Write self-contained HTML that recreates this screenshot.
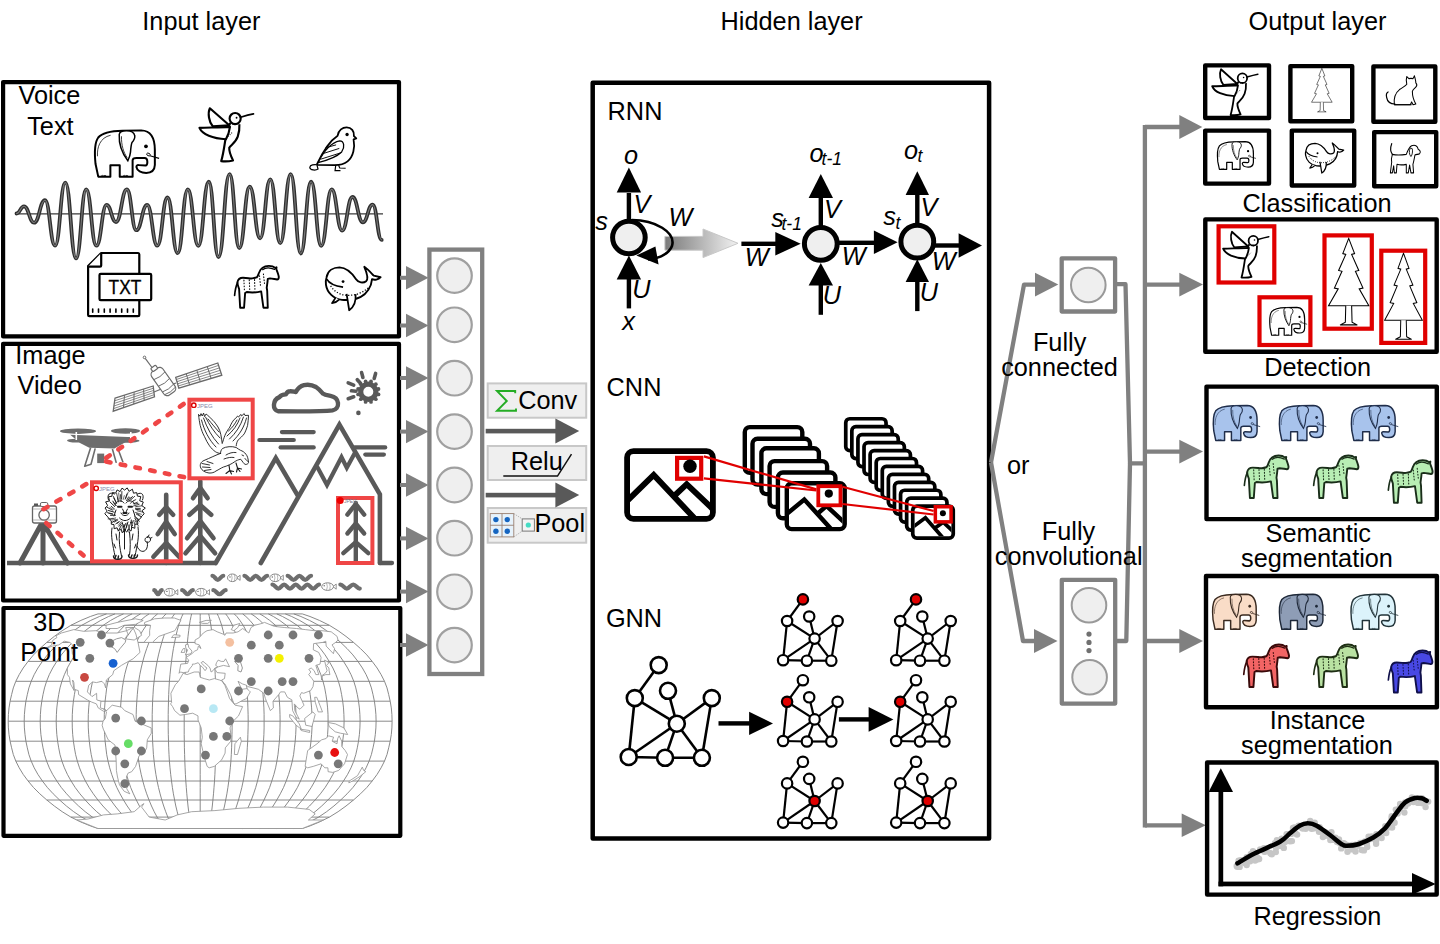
<!DOCTYPE html>
<html><head><meta charset="utf-8">
<style>
html,body{margin:0;padding:0;background:#fff;}
body{width:1440px;height:944px;overflow:hidden;}
svg{display:block;}
text{font-family:"Liberation Sans",sans-serif;font-size:25.3px;fill:#000;}
.it{font-style:italic;}
</style></head>
<body>
<svg width="1440" height="944" viewBox="0 0 1440 944">
<defs>
<linearGradient id="gA" x1="0" x2="1" y1="0" y2="0"><stop offset="0" stop-color="#7a7a7a"/><stop offset="1" stop-color="#f2f2f2"/></linearGradient>
<symbol preserveAspectRatio="none" id="eleph" viewBox="70 228 525 398" overflow="visible">
<path d="M106,613 L203,613 L203,521 L278,521 L278,613 L381,613 L381,482 C381,470 395,463 413,463 L476,463 C493,463 499,475 499,495 C499,512 494,523 484,524 L430,521 C416,520 410,528 412,538 C417,566 450,583 490,583 C531,583 557,565 559,520 L559,400 C559,300 520,245 450,243 L300,246 C200,248 140,260 106,300 C80,335 75,420 84,510 Z" fill="var(--f,#fff)" stroke="var(--s,#000)" stroke-width="16" stroke-linejoin="round"/>
<path d="M332,246 C300,246 276,252 274,276 C270,350 300,430 343,486 C355,460 363,432 364,417 C367,380 371,352 376,340 C392,322 401,302 398,286 C394,260 370,246 332,246 Z" fill="var(--f,#fff)" stroke="var(--s,#000)" stroke-width="12"/>
<path d="M292,290 C290,360 308,420 338,462" fill="none" stroke="var(--s,#000)" stroke-width="6"/>
<path d="M100,450 C95,380 120,300 205,282" fill="none" stroke="var(--s,#000)" stroke-width="6"/>
<circle cx="488" cy="370" r="15" fill="var(--s,#000)"/>
<ellipse cx="508" cy="436" rx="15" ry="10" transform="rotate(25 508 436)" fill="none" stroke="var(--s,#000)" stroke-width="7"/>
<path d="M520,446 L593,467" fill="none" stroke="var(--s,#000)" stroke-width="9"/>
<path d="M130,613 a10,10 0 0 1 20,0 a10,10 0 0 1 20,0 M305,613 a10,10 0 0 1 20,0 a10,10 0 0 1 20,0" fill="none" stroke="var(--s,#000)" stroke-width="6"/>
</symbol>
<symbol preserveAspectRatio="none" id="hbird" viewBox="28 60 475 472" overflow="visible">
<path d="M300,194 C280,215 268,270 258,330 C250,380 240,460 222,518 C255,522 290,520 322,512 C302,470 288,430 290,405 C300,385 345,360 362,310 C372,280 378,240 376,205" fill="#fff" stroke="var(--s,#000)" stroke-width="18" stroke-linejoin="round"/>
<path d="M290,214 L126,70 C106,112 118,185 150,222 Z" fill="#fff" stroke="var(--s,#000)" stroke-width="18" stroke-linejoin="round"/>
<path d="M296,228 C200,234 110,232 38,236 C62,292 150,328 262,332 C280,300 292,262 296,228 Z" fill="#fff" stroke="var(--s,#000)" stroke-width="18" stroke-linejoin="round"/>
<circle cx="340" cy="157" r="47" fill="#fff" stroke="var(--s,#000)" stroke-width="18"/>
<path d="M386,146 C425,134 462,124 495,118" fill="none" stroke="var(--s,#000)" stroke-width="15" stroke-linecap="round"/>
<circle cx="352" cy="150" r="8" fill="var(--s,#000)"/>
<path d="M268,322 L318,272 M300,200 L340,210" fill="none" stroke="var(--s,#000)" stroke-width="9" stroke-dasharray="7 12"/>
</symbol>
<symbol preserveAspectRatio="none" id="sparrow" viewBox="962 222 410 385" overflow="visible">
<path d="M1030,550 C1080,440 1150,340 1208,302 C1215,255 1250,232 1284,232 C1325,232 1350,265 1346,305 L1366,325 L1343,333 C1356,400 1342,480 1292,520 C1262,545 1222,552 1182,552 Z" fill="#fff" stroke="var(--s,#000)" stroke-width="15" stroke-linejoin="round"/>
<path d="M1032,548 C1010,545 975,548 972,570 C975,596 1022,598 1042,585 Z" fill="#fff" stroke="var(--s,#000)" stroke-width="10"/>
<path d="M1042,530 C1092,430 1152,360 1226,346 C1262,346 1272,400 1242,440 C1202,480 1122,510 1042,530 Z" fill="#fff" stroke="var(--s,#000)" stroke-width="11"/>
<path d="M1105,405 L1195,380 M1080,455 L1222,410 M1062,502 L1232,448" fill="none" stroke="var(--s,#000)" stroke-width="8"/>
<circle cx="1288" cy="292" r="14" fill="var(--s,#000)"/>
<path d="M1192,552 L1186,598 L1232,598 M1216,552 L1226,576 L1276,578" fill="none" stroke="var(--s,#000)" stroke-width="10"/>
</symbol>
<symbol preserveAspectRatio="none" id="horse" viewBox="70 82 392 380" overflow="visible">
<path d="M105,230 C110,205 130,193 152,193 C190,193 210,200 230,198 C250,196 260,192 269,189 C278,180 282,165 287,152 C295,130 305,115 315,110 C335,95 355,92 371,92 C395,92 415,100 427,110 L436,104 L434,120 C442,140 452,165 455,184 C456,198 450,206 441,207 C420,204 400,200 381,198 L362,202 C360,230 356,255 353,277 L357,304 L362,446 L325,446 L306,308 C280,315 255,317 231,317 C210,317 195,315 184,313 L170,322 L161,446 L128,446 L119,286 C110,265 104,248 105,230 Z" fill="var(--f,#fff)" stroke="var(--s,#000)" stroke-width="16" stroke-linejoin="round"/>
<path d="M106,234 C93,262 85,300 81,341" fill="none" stroke="var(--s,#000)" stroke-width="14" stroke-linecap="round"/>
<path d="M318,124 C340,107 380,104 420,122" fill="none" stroke="var(--s,#000)" stroke-width="11" stroke-linecap="round"/>
<path d="M160,212 L164,300 M205,210 L210,306 M250,208 L254,306 M292,175 L300,260 M325,160 L335,250" fill="none" stroke="var(--s,#000)" stroke-width="9" stroke-dasharray="7 18" stroke-linecap="round"/>
</symbol>
<symbol preserveAspectRatio="none" id="whale" viewBox="842 82 486 400" overflow="visible">
<path d="M860,190 C870,130 920,105 970,105 C1040,108 1080,160 1110,205 C1130,235 1170,242 1195,222 C1215,205 1210,170 1180,100 C1210,120 1240,155 1260,175 L1318,188 C1300,210 1265,215 1245,205 C1240,270 1200,330 1150,355 C1100,380 1050,385 990,380 C920,370 865,320 855,250 C852,225 855,205 860,190 Z" fill="#fff" stroke="var(--s,#000)" stroke-width="16" stroke-linejoin="round"/>
<path d="M862,205 C882,242 922,262 1000,272" fill="none" stroke="var(--s,#000)" stroke-width="14"/>
<circle cx="1000" cy="225" r="12" fill="var(--s,#000)"/>
<path d="M1030,330 L1052,468 C1092,440 1112,400 1106,332" fill="#fff" stroke="var(--s,#000)" stroke-width="15" stroke-linejoin="round"/>
<path d="M938,360 L906,408 C932,404 952,394 966,378" fill="#fff" stroke="var(--s,#000)" stroke-width="14" stroke-linejoin="round"/>
<path d="M895,262 C930,318 990,342 1040,342 C1110,342 1170,318 1215,276" fill="none" stroke="var(--s,#000)" stroke-width="11" stroke-dasharray="10 15"/>
</symbol>
<symbol preserveAspectRatio="none" id="fir" viewBox="-4 -4 108 208" overflow="visible">
<path d="M50,0.0 L64,35.1 L57,36.9 L74,73.8 L66,75.7 L84,114.4 L75,116.2 L98,155.0 L2,155.0 L25,116.2 L16,114.4 L34,75.7 L26,73.8 L43,36.9 L36,35.1 Z" fill="#fff" stroke="var(--s,#000)" stroke-width="2.5"/>
<path d="M43,155 L42,193 L30,199 L70,199 L58,193 L57,155" fill="#fff" stroke="var(--s,#000)" stroke-width="2.5" stroke-linejoin="round"/>
</symbol>
<symbol preserveAspectRatio="none" id="cat" viewBox="0 0 100 100" overflow="visible">
<path d="M30,88 C28,70 32,55 45,45 C55,38 62,36 66,30 C64,22 64,14 66,8 L72,14 C76,13 80,13 84,14 L88,6 C90,14 92,20 92,26 C96,30 96,34 92,38 C88,42 84,44 82,50 C82,62 86,76 92,86 L84,88 L80,80 L76,88 Z" fill="#fff" stroke="var(--s,#000)" stroke-width="3" stroke-linejoin="round"/>
<path d="M32,86 C20,86 10,80 8,68 C6,60 8,54 12,52" fill="none" stroke="var(--s,#000)" stroke-width="3.5" stroke-linecap="round"/>
<path d="M30,88 L80,88" stroke="var(--s,#000)" stroke-width="3"/>
</symbol>
<symbol preserveAspectRatio="none" id="dog" viewBox="0 0 100 100" overflow="visible">
<path d="M14,40 C24,42 40,42 56,40 C60,30 64,20 72,16 C82,12 90,16 92,26 C98,28 100,34 96,38 C92,40 86,40 82,42 C80,52 78,62 76,68 L78,92 L70,92 L66,70 L62,92 L56,92 L56,68 C46,70 36,70 28,68 L26,92 L20,92 L18,72 L14,92 L8,92 L12,62 C10,54 12,46 14,40 Z" fill="#fff" stroke="var(--s,#000)" stroke-width="3" stroke-linejoin="round"/>
<path d="M14,40 C8,32 8,20 12,10" fill="none" stroke="var(--s,#000)" stroke-width="3.5" stroke-linecap="round"/>
<path d="M68,22 C64,30 64,40 70,46 C74,42 76,32 74,24 Z" fill="#fff" stroke="var(--s,#000)" stroke-width="2.5"/>
</symbol>
</defs>
<rect x="0" y="0" width="1440" height="944" fill="#fff"/>

<!-- titles -->
<text x="201.4" y="29.9" text-anchor="middle">Input layer</text>
<text x="791.6" y="29.9" text-anchor="middle">Hidden layer</text>
<text x="1317.5" y="29.9" text-anchor="middle">Output layer</text>

<line x1="16.5" y1="213.8" x2="383" y2="213.8" stroke="#3a3a3a" stroke-width="1.3"/>
<path d="M16.5,213.5 C20.1,213.5 20.4,206.3 24.0,206.3 C28.8,206.3 29.3,222.7 34.1,222.7 C39.3,222.7 39.8,200.2 45.0,200.2 C49.8,200.2 50.3,245.7 55.1,245.7 C60.0,245.7 60.4,182.6 65.3,182.6 C70.5,182.6 70.9,258.4 76.1,258.4 C80.9,258.4 81.4,189.4 86.2,189.4 C91.1,189.4 91.5,245.7 96.4,245.7 C101.3,245.7 101.7,204.9 106.6,204.9 C111.1,204.9 111.5,222.0 116.0,222.0 C121.2,222.0 121.7,189.4 126.9,189.4 C131.4,189.4 131.8,230.2 136.3,230.2 C141.5,230.2 142.0,204.9 147.2,204.9 C152.0,204.9 152.5,245.7 157.3,245.7 C162.2,245.7 162.6,197.5 167.5,197.5 C172.3,197.5 172.8,253.2 177.6,253.2 C182.5,253.2 182.9,189.4 187.8,189.4 C192.8,189.4 193.3,245.9 198.3,245.9 C203.3,245.9 203.7,181.7 208.8,181.7 C213.4,181.7 213.8,257.0 218.5,257.0 C223.8,257.0 224.3,174.1 229.6,174.1 C234.3,174.1 234.6,248.0 239.3,248.0 C244.3,248.0 244.7,186.6 249.7,186.6 C254.7,186.6 255.1,238.3 260.1,238.3 C265.0,238.3 265.4,179.4 270.3,179.4 C275.1,179.4 275.5,243.1 280.3,243.1 C285.3,243.1 285.7,174.1 290.7,174.1 C295.5,174.1 296.0,253.5 300.8,253.5 C305.7,253.5 306.2,181.7 311.1,181.7 C316.0,181.7 316.4,245.9 321.2,245.9 C326.3,245.9 326.7,189.4 331.7,189.4 C336.7,189.4 337.1,230.6 342.1,230.6 C347.1,230.6 347.5,197.0 352.5,197.0 C357.5,197.0 357.9,222.3 362.9,222.3 C367.6,222.3 367.9,204.6 372.6,204.6 C377.0,204.6 377.3,239.9 381.7,239.9" fill="none" stroke="#303030" stroke-width="3.8" stroke-linecap="round"/>
<path d="M16.5,213.5 C20.1,213.5 20.4,206.3 24.0,206.3 C28.8,206.3 29.3,222.7 34.1,222.7 C39.3,222.7 39.8,200.2 45.0,200.2 C49.8,200.2 50.3,245.7 55.1,245.7 C60.0,245.7 60.4,182.6 65.3,182.6 C70.5,182.6 70.9,258.4 76.1,258.4 C80.9,258.4 81.4,189.4 86.2,189.4 C91.1,189.4 91.5,245.7 96.4,245.7 C101.3,245.7 101.7,204.9 106.6,204.9 C111.1,204.9 111.5,222.0 116.0,222.0 C121.2,222.0 121.7,189.4 126.9,189.4 C131.4,189.4 131.8,230.2 136.3,230.2 C141.5,230.2 142.0,204.9 147.2,204.9 C152.0,204.9 152.5,245.7 157.3,245.7 C162.2,245.7 162.6,197.5 167.5,197.5 C172.3,197.5 172.8,253.2 177.6,253.2 C182.5,253.2 182.9,189.4 187.8,189.4 C192.8,189.4 193.3,245.9 198.3,245.9 C203.3,245.9 203.7,181.7 208.8,181.7 C213.4,181.7 213.8,257.0 218.5,257.0 C223.8,257.0 224.3,174.1 229.6,174.1 C234.3,174.1 234.6,248.0 239.3,248.0 C244.3,248.0 244.7,186.6 249.7,186.6 C254.7,186.6 255.1,238.3 260.1,238.3 C265.0,238.3 265.4,179.4 270.3,179.4 C275.1,179.4 275.5,243.1 280.3,243.1 C285.3,243.1 285.7,174.1 290.7,174.1 C295.5,174.1 296.0,253.5 300.8,253.5 C305.7,253.5 306.2,181.7 311.1,181.7 C316.0,181.7 316.4,245.9 321.2,245.9 C326.3,245.9 326.7,189.4 331.7,189.4 C336.7,189.4 337.1,230.6 342.1,230.6 C347.1,230.6 347.5,197.0 352.5,197.0 C357.5,197.0 357.9,222.3 362.9,222.3 C367.6,222.3 367.9,204.6 372.6,204.6 C377.0,204.6 377.3,239.9 381.7,239.9" fill="none" stroke="#7a7a7a" stroke-width="1.1" stroke-linecap="round"/>
<use href="#eleph" x="93.75" y="128.5" width="65.6" height="49.75"/>
<use href="#hbird" x="198.3" y="107.1" width="56.1" height="55.7"/>
<use href="#sparrow" x="308.6" y="126.2" width="48.4" height="45.5"/>
<use href="#horse" x="233.3" y="264.7" width="46.3" height="44.9"/>
<use href="#whale" x="324.4" y="264.7" width="57.4" height="47.2"/>
<g fill="#fff" stroke="#000" stroke-width="2.2" stroke-linejoin="round">
<path d="M101.2,253 L138.2,253 Q139.3,253 139.3,254.5 L139.3,315 Q139.3,316.2 138,316.2 L89.4,316.2 Q88.1,316.2 88.1,315 L88.1,266 Z"/>
<path d="M101.2,253 L101.2,265.5 Q101.2,266.6 100,266.6 L88.1,266.6"/>
<rect x="99.5" y="273.8" width="51.7" height="26.3" rx="1.2"/>
</g>
<text x="108.6" y="293.7" textLength="32.6" lengthAdjust="spacingAndGlyphs" style="font-size:19.4px;stroke:#000;stroke-width:0.35">TXT</text>
<g stroke="#000" stroke-width="1.6" stroke-linecap="round">
<line x1="92.7" y1="309" x2="92.7" y2="312.3"/>
<line x1="98.5" y1="309" x2="98.5" y2="312.3"/>
<line x1="104.3" y1="309" x2="104.3" y2="312.3"/>
<line x1="110.1" y1="309" x2="110.1" y2="312.3"/>
<line x1="115.9" y1="309" x2="115.9" y2="312.3"/>
<line x1="121.7" y1="309" x2="121.7" y2="312.3"/>
<line x1="127.5" y1="309" x2="127.5" y2="312.3"/>
<line x1="133.3" y1="309" x2="133.3" y2="312.3"/>
</g>
<g stroke="#595959" fill="none" stroke-linecap="round" stroke-linejoin="miter">
<line x1="7" y1="563" x2="216" y2="563" stroke-width="4.3" stroke-linecap="butt"/>
<line x1="379.9" y1="563" x2="392" y2="563" stroke-width="4.3"/>
<path d="M20,563 L42.5,522 L67.4,563 M43,522 L43,563" stroke-width="5"/>
<line x1="166.2" y1="494.8" x2="166.2" y2="563" stroke-width="4.6"/>
<path d="M159.3,514.8 L166.2,507.2 L173.1,514.8" stroke-width="4.6"/>
<path d="M157.7,534.0 L166.2,521.7 L174.7,534.0" stroke-width="4.6"/>
<path d="M153.4,556.8 L166.2,543 L179.0,556.8" stroke-width="4.6"/>
<line x1="200.3" y1="481" x2="200.3" y2="563" stroke-width="4.6"/>
<path d="M193.0,498.2 L200.3,487.9 L207.6,498.2" stroke-width="4.6"/>
<path d="M189.4,514.8 L200.3,505.1 L211.2,514.8" stroke-width="4.6"/>
<path d="M187.1,538.2 L200.3,521 L213.5,538.2" stroke-width="4.6"/>
<path d="M185.5,553.3 L200.3,536.1 L215.1,553.3" stroke-width="4.6"/>
<line x1="355.8" y1="503" x2="355.8" y2="560.3" stroke-width="4.4"/>
<path d="M347.4,514.6 L355.8,504 L364.2,514.6" stroke-width="4.4"/>
<path d="M347.4,533.5 L355.8,523.5 L364.2,533.5" stroke-width="4.4"/>
<path d="M343.3,553.1 L355.8,542.1 L368.3,553.1" stroke-width="4.4"/>
<path d="M215.7,563 L275.8,458 L297.8,495.6" stroke-width="4.6"/>
<path d="M260.8,563 L339.4,424.7 L379.9,494.3 L379.9,563" stroke-width="4.6"/>
<path d="M317.7,467.8 L327,485 L341.5,457.2 L346.8,467.8 L354.7,453.3" stroke-width="4.2"/>
<line x1="259.4" y1="440" x2="293.8" y2="440" stroke-width="4.2"/>
<line x1="281.9" y1="432.1" x2="313.7" y2="432.1" stroke-width="4.2"/>
<line x1="280.6" y1="447.4" x2="313.7" y2="447.4" stroke-width="4.2"/>
<line x1="354.7" y1="447.4" x2="385.2" y2="447.4" stroke-width="4.2"/>
<line x1="365.3" y1="454.6" x2="383.9" y2="454.6" stroke-width="4.2"/>
<path d="M278.5,411.3 C272,410 272.5,400 279.4,397.1 C281,395 284,394.5 285.8,394.4 C287,392 288,391.2 290,391.2 C292.5,391 294,391.8 295.7,392.1 C298,388 301,386 304,385.2 C308,384.3 312,384.8 316,387 C319,389 321,391.5 322.8,393.5 C325,395 328,395.4 330.5,395.9 C334.5,396.7 337.5,399 338,403 C338.5,407 336,409.8 332.5,410.4 C325,411.3 300,411.5 278.5,411.3 Z" stroke-width="4.4" stroke-linejoin="round"/>
<circle cx="368.3" cy="391.7" r="7.6" stroke-width="5.2"/>
<circle cx="378.5" cy="394.4" r="1.9" fill="#595959" stroke="none"/>
<circle cx="375.8" cy="399.2" r="1.9" fill="#595959" stroke="none"/>
<circle cx="371.0" cy="401.9" r="1.9" fill="#595959" stroke="none"/>
<circle cx="365.6" cy="401.9" r="1.9" fill="#595959" stroke="none"/>
<circle cx="360.8" cy="399.2" r="1.9" fill="#595959" stroke="none"/>
<circle cx="358.1" cy="394.4" r="1.9" fill="#595959" stroke="none"/>
<circle cx="358.1" cy="389.0" r="1.9" fill="#595959" stroke="none"/>
<circle cx="360.8" cy="384.2" r="1.9" fill="#595959" stroke="none"/>
<circle cx="365.6" cy="381.5" r="1.9" fill="#595959" stroke="none"/>
<circle cx="371.0" cy="381.5" r="1.9" fill="#595959" stroke="none"/>
<circle cx="375.8" cy="384.2" r="1.9" fill="#595959" stroke="none"/>
<circle cx="378.5" cy="389.0" r="1.9" fill="#595959" stroke="none"/>
<line x1="361.6" y1="372.6" x2="362.9" y2="377.5" stroke-width="3.6"/>
<line x1="375.6" y1="373.4" x2="374.2" y2="378.4" stroke-width="3.6"/>
<line x1="357.3" y1="379.7" x2="360.5" y2="383.3" stroke-width="3.6"/>
<line x1="348.2" y1="382.8" x2="353.7" y2="385.1" stroke-width="3.6"/>
<line x1="351.4" y1="390.8" x2="356.0" y2="391.2" stroke-width="3.6"/>
<line x1="348.2" y1="398.7" x2="353.7" y2="396.8" stroke-width="3.6"/>
</g>
<circle cx="358.4" cy="412.9" r="2.3" fill="#595959"/>
<path d="M212.5,575.8 C214.6,575.8 215.7,579.8 217.8,579.8 C220.0,579.8 221.1,575.8 223.2,575.8" fill="none" stroke="#6e6e6e" stroke-width="4.3" stroke-linecap="round"/>
<ellipse cx="232.4" cy="577.8" rx="4.9" ry="3.8" fill="#fff" stroke="#7a7a7a" stroke-width="0.9"/>
<path d="M236.9,577.8 l3.2,-2.6 l0,5.2 z" fill="#fff" stroke="#7a7a7a" stroke-width="0.8"/>
<path d="M231.4,574.3 q1.5,3.5 0,7 M234.4,574.6 q1.2,3.2 0,6.4" fill="none" stroke="#8a8a8a" stroke-width="0.6"/>
<circle cx="230.0" cy="577.0" r="0.7" fill="#666"/>
<path d="M244.5,575.8 C246.8,575.8 247.9,579.8 250.2,579.8 C252.4,579.8 253.5,575.8 255.8,575.8 C258.1,575.8 259.2,579.8 261.5,579.8 C263.7,579.8 264.8,575.8 267.1,575.8" fill="none" stroke="#6e6e6e" stroke-width="4.3" stroke-linecap="round"/>
<ellipse cx="275.2" cy="577.8" rx="5.4" ry="3.8" fill="#fff" stroke="#7a7a7a" stroke-width="0.9"/>
<path d="M280.1,577.8 l3.2,-2.6 l0,5.2 z" fill="#fff" stroke="#7a7a7a" stroke-width="0.8"/>
<path d="M274.2,574.3 q1.5,3.5 0,7 M277.2,574.6 q1.2,3.2 0,6.4" fill="none" stroke="#8a8a8a" stroke-width="0.6"/>
<circle cx="272.3" cy="577.0" r="0.7" fill="#666"/>
<path d="M287.7,575.8 C290.0,575.8 291.2,579.8 293.5,579.8 C295.9,579.8 297.0,575.8 299.4,575.8 C301.7,575.8 302.8,579.8 305.2,579.8 C307.5,579.8 308.7,575.8 311.0,575.8" fill="none" stroke="#6e6e6e" stroke-width="4.3" stroke-linecap="round"/>
<path d="M272.5,584.6 C274.8,584.6 276.0,588.6 278.3,588.6 C280.6,588.6 281.8,584.6 284.1,584.6 C286.4,584.6 287.6,588.6 289.9,588.6 C292.3,588.6 293.4,584.6 295.8,584.6 C298.1,584.6 299.2,588.6 301.6,588.6 C303.9,588.6 305.1,584.6 307.4,584.6 C309.7,584.6 310.9,588.6 313.2,588.6 C315.5,588.6 316.7,584.6 319.0,584.6" fill="none" stroke="#6e6e6e" stroke-width="4.3" stroke-linecap="round"/>
<ellipse cx="327.6" cy="586.6" rx="5.9" ry="3.8" fill="#fff" stroke="#7a7a7a" stroke-width="0.9"/>
<path d="M333.0,586.6 l3.2,-2.6 l0,5.2 z" fill="#fff" stroke="#7a7a7a" stroke-width="0.8"/>
<path d="M326.6,583.1 q1.5,3.5 0,7 M329.6,583.4 q1.2,3.2 0,6.4" fill="none" stroke="#8a8a8a" stroke-width="0.6"/>
<circle cx="324.2" cy="585.8" r="0.7" fill="#666"/>
<path d="M340.4,584.6 C343.0,584.6 344.3,588.6 346.8,588.6 C349.4,588.6 350.7,584.6 353.3,584.6 C355.8,584.6 357.1,588.6 359.7,588.6" fill="none" stroke="#6e6e6e" stroke-width="4.3" stroke-linecap="round"/>
<path d="M154.3,590.2 C155.8,590.2 156.5,594.2 158.0,594.2 C159.5,594.2 160.2,590.2 161.7,590.2" fill="none" stroke="#6e6e6e" stroke-width="4.3" stroke-linecap="round"/>
<ellipse cx="169.8" cy="592.2" rx="5.4" ry="3.8" fill="#fff" stroke="#7a7a7a" stroke-width="0.9"/>
<path d="M174.6,592.2 l3.2,-2.6 l0,5.2 z" fill="#fff" stroke="#7a7a7a" stroke-width="0.8"/>
<path d="M168.8,588.7 q1.5,3.5 0,7 M171.8,589.0 q1.2,3.2 0,6.4" fill="none" stroke="#8a8a8a" stroke-width="0.6"/>
<circle cx="166.9" cy="591.4" r="0.7" fill="#666"/>
<path d="M182.2,590.2 C184.3,590.2 185.4,594.2 187.5,594.2 C189.6,594.2 190.7,590.2 192.8,590.2" fill="none" stroke="#6e6e6e" stroke-width="4.3" stroke-linecap="round"/>
<ellipse cx="201.2" cy="592.2" rx="5.6" ry="3.8" fill="#fff" stroke="#7a7a7a" stroke-width="0.9"/>
<path d="M206.3,592.2 l3.2,-2.6 l0,5.2 z" fill="#fff" stroke="#7a7a7a" stroke-width="0.8"/>
<path d="M200.2,588.7 q1.5,3.5 0,7 M203.2,589.0 q1.2,3.2 0,6.4" fill="none" stroke="#8a8a8a" stroke-width="0.6"/>
<circle cx="198.0" cy="591.4" r="0.7" fill="#666"/>
<path d="M213.4,590.2 C215.8,590.2 217.1,594.2 219.5,594.2 C221.9,594.2 223.2,590.2 225.6,590.2" fill="none" stroke="#6e6e6e" stroke-width="4.3" stroke-linecap="round"/>
<g fill="#6d6d6d">
<ellipse cx="78" cy="431.2" rx="18" ry="2.7"/><ellipse cx="125.5" cy="431" rx="14.5" ry="2.7"/>
<ellipse cx="76" cy="440.6" rx="9" ry="1.9"/><ellipse cx="127" cy="440.8" rx="12.5" ry="1.9"/>
<path d="M70.2,434.8 L134.2,437.2 L124,443 L114.4,448.4 L89.3,447.7 L80,443 Z"/>
<rect x="75.5" y="432" width="1.6" height="8" fill="#fff"/><rect x="130" y="432" width="1.6" height="8" fill="#fff"/>
<rect x="97.2" y="453.6" width="7" height="9.5"/>
</g>
<path d="M90.6,447.7 L84.7,466.2 L91,464.2 L95.2,448.4 M112.4,449 L116.3,462.9 M118.3,449.7 L123,462.2" stroke="#6d6d6d" stroke-width="1.6" fill="none" stroke-linejoin="round"/>
<polygon points="115.0,398.2 153.2,386.0 154.5,396.9 113.2,411.2" fill="#fff" stroke="#6a6a6a" stroke-width="1.3"/>
<line x1="124.5" y1="395.1" x2="123.5" y2="407.6" stroke="#6a6a6a" stroke-width="1"/>
<line x1="134.1" y1="392.1" x2="133.8" y2="404.0" stroke="#6a6a6a" stroke-width="1"/>
<line x1="143.6" y1="389.1" x2="144.2" y2="400.5" stroke="#6a6a6a" stroke-width="1"/>
<line x1="114.6" y1="400.8" x2="153.5" y2="388.2" stroke="#6a6a6a" stroke-width="0.8"/>
<line x1="114.3" y1="403.4" x2="153.7" y2="390.4" stroke="#6a6a6a" stroke-width="0.8"/>
<line x1="113.9" y1="406.0" x2="154.0" y2="392.5" stroke="#6a6a6a" stroke-width="0.8"/>
<line x1="113.6" y1="408.6" x2="154.2" y2="394.7" stroke="#6a6a6a" stroke-width="0.8"/>
<polygon points="175.7,377.3 217.8,363.0 221.8,375.2 178.8,388.2" fill="#fff" stroke="#6a6a6a" stroke-width="1.3"/>
<line x1="186.2" y1="373.7" x2="189.6" y2="384.9" stroke="#6a6a6a" stroke-width="1"/>
<line x1="196.8" y1="370.1" x2="200.3" y2="381.7" stroke="#6a6a6a" stroke-width="1"/>
<line x1="207.3" y1="366.6" x2="211.1" y2="378.4" stroke="#6a6a6a" stroke-width="1"/>
<line x1="176.3" y1="379.5" x2="218.6" y2="365.4" stroke="#6a6a6a" stroke-width="0.8"/>
<line x1="176.9" y1="381.7" x2="219.4" y2="367.9" stroke="#6a6a6a" stroke-width="0.8"/>
<line x1="177.6" y1="383.8" x2="220.2" y2="370.3" stroke="#6a6a6a" stroke-width="0.8"/>
<line x1="178.2" y1="386.0" x2="221.0" y2="372.8" stroke="#6a6a6a" stroke-width="0.8"/>
<line x1="154" y1="392" x2="176" y2="383" stroke="#6a6a6a" stroke-width="1.3"/>
<g transform="translate(163.4,381.5) rotate(55)" fill="#fff" stroke="#6a6a6a" stroke-width="1.2"><rect x="-14.5" y="-6.8" width="29" height="13.6" rx="4"/><path d="M-7,-6.8 Q-5,0 -7,6.8 M1,-6.8 Q3,0 1,6.8 M8,-6.8 Q10,0 8,6.8 M11.5,-6.8 Q13.5,0 11.5,6.8" fill="none" stroke-width="0.9"/><rect x="-18" y="-3" width="4" height="6" rx="1"/></g>
<line x1="144.5" y1="357.4" x2="152" y2="367.5" stroke="#6a6a6a" stroke-width="1.2"/><circle cx="144.5" cy="357.4" r="1.3" fill="#fff" stroke="#6a6a6a" stroke-width="1"/>
<rect x="32.5" y="506" width="24" height="17" rx="2" fill="#fff" stroke="#666" stroke-width="1.3"/><rect x="40.4" y="502.5" width="7.4" height="4" rx="1.5" fill="#fff" stroke="#666" stroke-width="1"/><rect x="34" y="503.5" width="4" height="2.4" fill="#555"/><circle cx="44.1" cy="515" r="5.2" fill="#fff" stroke="#666" stroke-width="1.3"/><line x1="33" y1="509" x2="56" y2="509" stroke="#888" stroke-width="0.6"/><line x1="33" y1="520" x2="56" y2="520" stroke="#888" stroke-width="0.6"/>
<g fill="none" stroke="#ef4646" stroke-width="4">
<rect x="92" y="482.3" width="88.8" height="79"/>
<rect x="189.4" y="399.7" width="63.3" height="78.6"/>
<rect x="338" y="498" width="34.4" height="65"/>
</g>
<g fill="none" stroke="#ef4646" stroke-width="4.6" stroke-dasharray="4.6 10.4" stroke-linecap="round">
<line x1="43.5" y1="509.2" x2="89" y2="482.5"/>
<line x1="46.2" y1="523" x2="87.5" y2="559"/>
<line x1="106" y1="458" x2="188" y2="401"/>
<line x1="106" y1="461.5" x2="186" y2="477.5"/>
</g>
<circle cx="96.2" cy="488.3" r="2.2" fill="none" stroke="#d00" stroke-width="1.4"/><text x="99" y="490.5" style="font-size:6px;fill:#88a">JPEG</text>
<circle cx="193.8" cy="405.2" r="2.2" fill="none" stroke="#d00" stroke-width="1.4"/><text x="197" y="407.5" style="font-size:6px;fill:#88a">JPEG</text>
<circle cx="340.2" cy="500.6" r="3.5" fill="#e00"/><text x="344" y="503" style="font-size:5px;fill:#778">JPEG</text>
<g fill="none" stroke="#1a1a1a" stroke-width="1" stroke-linecap="round" stroke-linejoin="round">
<path d="M142.2,511.0 L144.2,513.8 L141.9,516.0 L139.8,519.1 L137.5,520.6 L137.9,524.2 L134.8,524.2 L134.9,528.3 L131.8,527.1 L131.0,531.1 L128.3,529.0 L126.8,532.1 L124.6,530.1 L122.4,533.0 L120.8,529.1 L118.2,530.8 L117.1,527.8 L114.1,528.7 L114.0,524.6 L111.3,524.2 L111.3,520.9 L109.4,519.1 L107.1,516.1 L104.8,513.8 L107.2,511.0 L105.0,508.0 L107.7,505.7 L105.6,501.9 L109.5,500.9 L108.5,496.7 L111.9,496.3 L112.4,492.5 L115.7,493.1 L117.1,489.9 L120.1,491.6 L122.0,488.1 L124.6,490.1 L127.2,487.9 L129.1,491.3 L132.4,489.2 L133.5,493.2 L136.7,492.6 L137.4,496.1 L140.8,496.6 L139.7,500.8 L143.3,502.0 L141.8,505.6 L145.0,507.9 Z"/>
<line x1="135.1" y1="512.3" x2="141.4" y2="514.3" stroke-width="0.65"/>
<line x1="136.7" y1="513.3" x2="140.0" y2="515.4" stroke-width="0.80"/>
<line x1="136.3" y1="514.1" x2="141.5" y2="517.0" stroke-width="0.83"/>
<line x1="134.5" y1="516.0" x2="139.0" y2="519.7" stroke-width="0.84"/>
<line x1="134.7" y1="517.1" x2="139.3" y2="521.4" stroke-width="0.98"/>
<line x1="134.9" y1="518.5" x2="136.8" y2="521.6" stroke-width="0.88"/>
<line x1="135.0" y1="520.6" x2="138.5" y2="526.0" stroke-width="0.71"/>
<line x1="133.5" y1="520.6" x2="134.8" y2="524.0" stroke-width="0.78"/>
<line x1="131.5" y1="519.9" x2="132.7" y2="523.3" stroke-width="0.91"/>
<line x1="131.0" y1="521.0" x2="132.5" y2="525.7" stroke-width="0.95"/>
<line x1="130.5" y1="522.3" x2="131.8" y2="527.7" stroke-width="0.95"/>
<line x1="129.3" y1="524.8" x2="129.3" y2="529.4" stroke-width="0.77"/>
<line x1="128.7" y1="525.1" x2="128.9" y2="532.3" stroke-width="0.66"/>
<line x1="127.1" y1="523.0" x2="126.6" y2="527.4" stroke-width="0.79"/>
<line x1="125.6" y1="523.4" x2="124.5" y2="526.8" stroke-width="0.77"/>
<line x1="124.8" y1="524.6" x2="123.1" y2="531.5" stroke-width="0.88"/>
<line x1="123.4" y1="524.8" x2="121.1" y2="530.3" stroke-width="0.62"/>
<line x1="121.6" y1="525.0" x2="118.3" y2="530.9" stroke-width="0.92"/>
<line x1="121.3" y1="523.4" x2="119.0" y2="526.4" stroke-width="0.85"/>
<line x1="121.0" y1="522.0" x2="118.4" y2="525.2" stroke-width="0.66"/>
<line x1="119.9" y1="521.3" x2="117.4" y2="523.5" stroke-width="0.66"/>
<line x1="118.6" y1="521.9" x2="115.8" y2="523.8" stroke-width="0.95"/>
<line x1="117.8" y1="520.1" x2="114.2" y2="522.2" stroke-width="0.74"/>
<line x1="117.3" y1="519.4" x2="111.9" y2="522.5" stroke-width="1.00"/>
<line x1="115.6" y1="519.3" x2="112.1" y2="520.1" stroke-width="0.64"/>
<line x1="115.7" y1="517.9" x2="109.8" y2="519.6" stroke-width="0.66"/>
<line x1="113.1" y1="518.3" x2="108.1" y2="519.0" stroke-width="0.66"/>
<line x1="115.5" y1="515.2" x2="110.5" y2="515.3" stroke-width="0.99"/>
<line x1="112.8" y1="514.3" x2="108.8" y2="513.3" stroke-width="0.75"/>
<line x1="112.5" y1="513.8" x2="107.5" y2="512.7" stroke-width="0.91"/>
<line x1="114.3" y1="512.2" x2="108.5" y2="510.5" stroke-width="0.99"/>
<line x1="112.4" y1="510.1" x2="106.9" y2="507.2" stroke-width="0.90"/>
<line x1="113.5" y1="509.7" x2="109.7" y2="507.2" stroke-width="0.61"/>
<line x1="114.5" y1="509.0" x2="111.2" y2="506.3" stroke-width="0.88"/>
<line x1="114.7" y1="506.5" x2="109.9" y2="501.8" stroke-width="1.00"/>
<line x1="115.5" y1="505.6" x2="113.2" y2="502.1" stroke-width="0.69"/>
<line x1="116.2" y1="505.7" x2="112.8" y2="501.1" stroke-width="0.96"/>
<line x1="116.6" y1="503.5" x2="113.9" y2="498.2" stroke-width="0.92"/>
<line x1="116.3" y1="502.7" x2="113.4" y2="496.5" stroke-width="0.91"/>
<line x1="118.3" y1="501.9" x2="117.5" y2="497.7" stroke-width="0.92"/>
<line x1="118.3" y1="500.4" x2="116.6" y2="493.4" stroke-width="0.76"/>
<line x1="119.3" y1="499.2" x2="118.7" y2="492.9" stroke-width="0.67"/>
<line x1="121.1" y1="501.6" x2="120.6" y2="494.7" stroke-width="0.92"/>
<line x1="121.6" y1="498.8" x2="121.9" y2="491.5" stroke-width="0.86"/>
<line x1="123.2" y1="499.5" x2="124.3" y2="495.6" stroke-width="0.61"/>
<line x1="125.2" y1="499.1" x2="127.0" y2="493.9" stroke-width="0.97"/>
<line x1="125.8" y1="498.3" x2="128.2" y2="492.1" stroke-width="0.68"/>
<line x1="126.5" y1="500.6" x2="128.6" y2="496.8" stroke-width="0.83"/>
<line x1="127.7" y1="500.4" x2="130.1" y2="497.3" stroke-width="0.96"/>
<line x1="129.0" y1="500.8" x2="132.4" y2="496.5" stroke-width="0.96"/>
<line x1="130.9" y1="499.8" x2="134.7" y2="496.3" stroke-width="0.81"/>
<line x1="130.2" y1="503.5" x2="134.0" y2="500.4" stroke-width="0.67"/>
<line x1="132.4" y1="501.5" x2="135.8" y2="499.6" stroke-width="0.79"/>
<line x1="133.3" y1="503.8" x2="137.4" y2="502.2" stroke-width="0.81"/>
<line x1="134.5" y1="504.1" x2="138.1" y2="503.4" stroke-width="0.82"/>
<line x1="133.5" y1="506.0" x2="139.2" y2="504.3" stroke-width="0.80"/>
<line x1="135.7" y1="506.6" x2="142.1" y2="505.8" stroke-width="0.78"/>
<line x1="135.4" y1="508.3" x2="140.3" y2="508.4" stroke-width="0.88"/>
<line x1="135.7" y1="509.3" x2="140.5" y2="510.0" stroke-width="0.98"/>
<line x1="137.1" y1="510.8" x2="143.5" y2="512.3" stroke-width="0.70"/>
<path d="M108.5,500 C106.5,494.5 110,491.5 114.5,494 M137.5,494 C142,491.5 144.5,495 142.5,500"/>
<path d="M115.5,503.5 C118,500 122,500 124,503 M126,503 C128,500 132,500 134.5,503.5"/>
<path d="M118,506.8 l3.5,0 M128.5,506.8 l3.5,0" stroke-width="2"/>
<path d="M122.5,509 L125,514 L127.5,509 M121,513 C122,516.5 128,516.5 129,513 M119.5,518 C123,521.5 127,521.5 130.5,518 M122,522 L125,531 L128,522 M116,510 l-2,6 M133,510 l2,6"/>
<path d="M123.5,513 L126.5,513" stroke-width="2.2"/>
<path d="M112,528 C110.5,536 113,546 115,556 M138,527 C139.5,537 137,546 135,556 M119.5,532 C118.5,541 120,549 121.5,556 M129.5,532 C130.5,541 130.5,549 129.5,555 M124.5,530 L124.5,549 M116,534 l1,6 M133,534 l-1,6 M114,544 l1.5,4 M136,544 l-1.5,4"/>
<path d="M113.5,556 C113.5,560.5 122,560.5 122,556 M128.5,555 C128.5,559.5 137.5,559.5 137.5,555" stroke-width="1.4"/>
<path d="M115,558 l1,-2.5 M118,558.5 l0.5,-2.5 M131,557.5 l1,-2.5 M134,557.5 l0.5,-2.5" stroke-width="1.4"/>
<path d="M137,546 C139,552 144,553 146.5,549 C148,546 147.5,543 147,541.5"/>
<path d="M147.6,537 C145,537 144.5,540 145.5,541.5 C147,543 150,542.5 150.5,540 C151,538 149.5,536.5 147.6,537 Z M148,537 l1,-2 M150,538.5 l2,-1"/>
</g>
<g fill="none" stroke="#1a1a1a" stroke-width="0.9" stroke-linecap="round" stroke-linejoin="round">
<path d="M222.2,443.5 C221.5,437 220.5,431 218,427 C216,424 214.5,422 212.9,420.3 C210,417.5 208,415.5 206.1,414 L204.5,416.5 L203.6,413.1 L202.2,416 L201,413.6 L200,416.2 L198.5,414.4 C199,419 199.5,422 200.2,425.4 C201.5,430 202.5,433 204.4,436.4 C206,440 207.5,443 209.5,445.8 C211.5,448.5 213,450 215.4,451.7 C217,452.8 219,453.4 220.5,453.4"/>
<path d="M201.5,420 C204,430 209,440 216,447 M203.5,418 C207,428 212,437 218.5,444 M205.5,417 C209.5,425 214,432 220,438 M208,419 C212,424 215.5,428 219,432"/>
<path d="M222.6,442.4 C224,438 224.5,436 225.6,433.9 C227,431 228.5,429 229.8,427.1 C231,424 232.5,421.5 234.1,419.5 L235.5,418.5 L237.5,416.1 L238.5,417 L240.8,414.4 L241.5,416 L244.2,413.6 L245,415.5 L248.5,415.3 C248.5,419 248,422 247.6,425.4 C246.5,429 245.5,431.5 244.2,433.9 C242,436.5 240.5,438 238.3,439.8 C237,441.5 236.5,443.5 236.2,445.8"/>
<path d="M246.5,418 C244,428 239,435 233,441 M243.5,417 C240.5,426 236,433 229.5,439 M240,418 C237.5,425 233,431 227,436 M237,420 C235,424 232,428 228.5,431"/>
<path d="M220.5,453.4 C216,455 210,458 204,460.5 C200.5,462 199.5,465 200.8,468 C202,470.5 205,472.5 209,473 C212,473.2 214,472.5 216,471 C219,469.5 221,468 223.5,467 C227,466 231,464.5 235.8,461 C238,459.8 240,459.3 240.8,459.3 C242.5,461.5 244,464 245.1,464.4 C246.5,464.8 248.5,463.5 248.5,462.7 C248.3,459 247.5,456 245.9,454.2 C244.5,452.2 242.5,451 240.5,450.3 C239,449.5 237.5,448.5 236.2,447.5 C232,446 226,446.5 222.5,448.5 C221,450 220.6,451.5 220.5,453.4 Z"/>
<path d="M202,463.5 L209.5,465 M202.5,467 L210,467.5 M204.5,470.5 L211,469.5 M207,461.5 L213,463.5 M242,455 l1.6,0.8 M245,458.5 C246,460 247,461 248.3,461.5"/>
<path d="M226,455 C229,453 233,452 236,452.5 M224,459 C228,457.5 231,457 234,457.5"/>
<path d="M229,465.3 L229.8,470.5 L226,473.5 M229.8,470.5 L231.5,474 M229.8,470.5 L233.5,471.5 M236,463 L237.5,468 L241.5,469 M237.5,468 L236.5,472 M237.5,468 L240,471.5" stroke-width="1.1"/>
</g>
<path d="M98.0,828.5 L90.3,825.9 L80.9,822.0 L70.9,817.1 L62.2,811.7 L54.3,806.0 L46.8,800.0 L39.8,793.8 L33.5,787.5 L28.1,781.0 L23.2,774.4 L19.2,767.8 L15.8,761.1 L13.3,754.5 L11.6,747.8 L10.1,741.2 L9.0,734.5 L8.4,727.9 L8.2,721.2 L8.4,714.5 L9.0,707.9 L10.1,701.2 L11.6,694.6 L13.3,687.9 L15.8,681.3 L19.2,674.6 L23.2,668.0 L28.1,661.4 L33.5,654.9 L39.8,648.6 L46.8,642.4 L54.3,636.4 L62.2,630.7 L70.9,625.3 L80.9,620.4 L90.3,616.5 L98.0,613.9 L302.3,613.9 L310.0,616.5 L319.4,620.4 L329.4,625.3 L338.1,630.7 L346.0,636.4 L353.5,642.4 L360.5,648.6 L366.8,654.9 L372.2,661.4 L377.1,668.0 L381.1,674.6 L384.5,681.3 L387.0,687.9 L388.7,694.6 L390.2,701.2 L391.3,707.9 L391.9,714.5 L392.1,721.2 L391.9,727.9 L391.3,734.5 L390.2,741.2 L388.7,747.8 L387.0,754.5 L384.5,761.1 L381.1,767.8 L377.1,774.4 L372.2,781.0 L366.8,787.5 L360.5,793.8 L353.5,800.0 L346.0,806.0 L338.1,811.7 L329.4,817.1 L319.4,822.0 L310.0,825.9 L302.3,828.5 Z" fill="#fff" stroke="#8a8a8a" stroke-width="1"/>
<path d="M106.5,828.5 L99.4,825.9 L90.8,822.0 L81.7,817.1 L73.7,811.7 L66.4,806.0 L59.6,800.0 L53.2,793.8 L47.4,787.5 L42.4,781.0 L37.9,774.4 L34.2,767.8 L31.2,761.1 L28.9,754.5 L27.3,747.8 L25.9,741.2 L25.0,734.5 L24.4,727.9 L24.2,721.2 L24.4,714.5 L25.0,707.9 L25.9,701.2 L27.3,694.6 L28.9,687.9 L31.2,681.3 L34.2,674.6 L37.9,668.0 L42.4,661.4 L47.4,654.9 L53.2,648.6 L59.6,642.4 L66.4,636.4 L73.7,630.7 L81.7,625.3 L90.8,620.4 L99.4,616.5 L106.5,613.9 M115.0,828.5 L108.6,825.9 L100.7,822.0 L92.4,817.1 L85.2,811.7 L78.6,806.0 L72.4,800.0 L66.6,793.8 L61.3,787.5 L56.8,781.0 L52.7,774.4 L49.3,767.8 L46.6,761.1 L44.5,754.5 L43.0,747.8 L41.8,741.2 L40.9,734.5 L40.4,727.9 L40.2,721.2 L40.4,714.5 L40.9,707.9 L41.8,701.2 L43.0,694.6 L44.5,687.9 L46.6,681.3 L49.3,674.6 L52.7,668.0 L56.8,661.4 L61.3,654.9 L66.6,648.6 L72.4,642.4 L78.6,636.4 L85.2,630.7 L92.4,625.3 L100.7,620.4 L108.6,616.5 L115.0,613.9 M123.5,828.5 L117.8,825.9 L110.7,822.0 L103.2,817.1 L96.7,811.7 L90.8,806.0 L85.2,800.0 L79.9,793.8 L75.2,787.5 L71.1,781.0 L67.4,774.4 L64.4,767.8 L61.9,761.1 L60.0,754.5 L58.7,747.8 L57.6,741.2 L56.8,734.5 L56.4,727.9 L56.2,721.2 L56.4,714.5 L56.8,707.9 L57.6,701.2 L58.7,694.6 L60.0,687.9 L61.9,681.3 L64.4,674.6 L67.4,668.0 L71.1,661.4 L75.2,654.9 L79.9,648.6 L85.2,642.4 L90.8,636.4 L96.7,630.7 L103.2,625.3 L110.7,620.4 L117.8,616.5 L123.5,613.9 M132.0,828.5 L126.9,825.9 L120.6,822.0 L114.0,817.1 L108.2,811.7 L102.9,806.0 L97.9,800.0 L93.3,793.8 L89.1,787.5 L85.4,781.0 L82.2,774.4 L79.5,767.8 L77.3,761.1 L75.6,754.5 L74.4,747.8 L73.4,741.2 L72.7,734.5 L72.3,727.9 L72.2,721.2 L72.3,714.5 L72.7,707.9 L73.4,701.2 L74.4,694.6 L75.6,687.9 L77.3,681.3 L79.5,674.6 L82.2,668.0 L85.4,661.4 L89.1,654.9 L93.3,648.6 L97.9,642.4 L102.9,636.4 L108.2,630.7 L114.0,625.3 L120.6,620.4 L126.9,616.5 L132.0,613.9 M140.5,828.5 L136.1,825.9 L130.6,822.0 L124.8,817.1 L119.7,811.7 L115.1,806.0 L110.7,800.0 L106.6,793.8 L102.9,787.5 L99.8,781.0 L96.9,774.4 L94.6,767.8 L92.6,761.1 L91.2,754.5 L90.1,747.8 L89.3,741.2 L88.7,734.5 L88.3,727.9 L88.2,721.2 L88.3,714.5 L88.7,707.9 L89.3,701.2 L90.1,694.6 L91.2,687.9 L92.6,681.3 L94.6,674.6 L96.9,668.0 L99.8,661.4 L102.9,654.9 L106.6,648.6 L110.7,642.4 L115.1,636.4 L119.7,630.7 L124.8,625.3 L130.6,620.4 L136.1,616.5 L140.5,613.9 M149.1,828.5 L145.2,825.9 L140.5,822.0 L135.5,817.1 L131.2,811.7 L127.2,806.0 L123.5,800.0 L120.0,793.8 L116.8,787.5 L114.1,781.0 L111.7,774.4 L109.7,767.8 L108.0,761.1 L106.7,754.5 L105.9,747.8 L105.1,741.2 L104.6,734.5 L104.3,727.9 L104.2,721.2 L104.3,714.5 L104.6,707.9 L105.1,701.2 L105.9,694.6 L106.7,687.9 L108.0,681.3 L109.7,674.6 L111.7,668.0 L114.1,661.4 L116.8,654.9 L120.0,648.6 L123.5,642.4 L127.2,636.4 L131.2,630.7 L135.5,625.3 L140.5,620.4 L145.2,616.5 L149.1,613.9 M157.6,828.5 L154.4,825.9 L150.4,822.0 L146.3,817.1 L142.7,811.7 L139.4,806.0 L136.3,800.0 L133.4,793.8 L130.7,787.5 L128.5,781.0 L126.4,774.4 L124.7,767.8 L123.4,761.1 L122.3,754.5 L121.6,747.8 L121.0,741.2 L120.5,734.5 L120.3,727.9 L120.2,721.2 L120.3,714.5 L120.5,707.9 L121.0,701.2 L121.6,694.6 L122.3,687.9 L123.4,681.3 L124.7,674.6 L126.4,668.0 L128.5,661.4 L130.7,654.9 L133.4,648.6 L136.3,642.4 L139.4,636.4 L142.7,630.7 L146.3,625.3 L150.4,620.4 L154.4,616.5 L157.6,613.9 M166.1,828.5 L163.5,825.9 L160.4,822.0 L157.1,817.1 L154.2,811.7 L151.5,806.0 L149.0,800.0 L146.7,793.8 L144.6,787.5 L142.8,781.0 L141.2,774.4 L139.8,767.8 L138.7,761.1 L137.9,754.5 L137.3,747.8 L136.8,741.2 L136.4,734.5 L136.2,727.9 L136.2,721.2 L136.2,714.5 L136.4,707.9 L136.8,701.2 L137.3,694.6 L137.9,687.9 L138.7,681.3 L139.8,674.6 L141.2,668.0 L142.8,661.4 L144.6,654.9 L146.7,648.6 L149.0,642.4 L151.5,636.4 L154.2,630.7 L157.1,625.3 L160.4,620.4 L163.5,616.5 L166.1,613.9 M174.6,828.5 L172.7,825.9 L170.3,822.0 L167.8,817.1 L165.7,811.7 L163.7,806.0 L161.8,800.0 L160.1,793.8 L158.5,787.5 L157.1,781.0 L155.9,774.4 L154.9,767.8 L154.1,761.1 L153.4,754.5 L153.0,747.8 L152.6,741.2 L152.4,734.5 L152.2,727.9 L152.2,721.2 L152.2,714.5 L152.4,707.9 L152.6,701.2 L153.0,694.6 L153.4,687.9 L154.1,681.3 L154.9,674.6 L155.9,668.0 L157.1,661.4 L158.5,654.9 L160.1,648.6 L161.8,642.4 L163.7,636.4 L165.7,630.7 L167.8,625.3 L170.3,620.4 L172.7,616.5 L174.6,613.9 M183.1,828.5 L181.8,825.9 L180.3,822.0 L178.6,817.1 L177.2,811.7 L175.8,806.0 L174.6,800.0 L173.4,793.8 L172.4,787.5 L171.5,781.0 L170.7,774.4 L170.0,767.8 L169.4,761.1 L169.0,754.5 L168.7,747.8 L168.5,741.2 L168.3,734.5 L168.2,727.9 L168.2,721.2 L168.2,714.5 L168.3,707.9 L168.5,701.2 L168.7,694.6 L169.0,687.9 L169.4,681.3 L170.0,674.6 L170.7,668.0 L171.5,661.4 L172.4,654.9 L173.4,648.6 L174.6,642.4 L175.8,636.4 L177.2,630.7 L178.6,625.3 L180.3,620.4 L181.8,616.5 L183.1,613.9 M191.6,828.5 L191.0,825.9 L190.2,822.0 L189.4,817.1 L188.7,811.7 L188.0,806.0 L187.4,800.0 L186.8,793.8 L186.3,787.5 L185.8,781.0 L185.4,774.4 L185.1,767.8 L184.8,761.1 L184.6,754.5 L184.4,747.8 L184.3,741.2 L184.2,734.5 L184.2,727.9 L184.2,721.2 L184.2,714.5 L184.2,707.9 L184.3,701.2 L184.4,694.6 L184.6,687.9 L184.8,681.3 L185.1,674.6 L185.4,668.0 L185.8,661.4 L186.3,654.9 L186.8,648.6 L187.4,642.4 L188.0,636.4 L188.7,630.7 L189.4,625.3 L190.2,620.4 L191.0,616.5 L191.6,613.9 M200.2,828.5 L200.2,825.9 L200.2,822.0 L200.2,817.1 L200.2,811.7 L200.2,806.0 L200.2,800.0 L200.2,793.8 L200.2,787.5 L200.2,781.0 L200.2,774.4 L200.2,767.8 L200.2,761.1 L200.2,754.5 L200.2,747.8 L200.2,741.2 L200.2,734.5 L200.2,727.9 L200.2,721.2 L200.2,714.5 L200.2,707.9 L200.2,701.2 L200.2,694.6 L200.2,687.9 L200.2,681.3 L200.2,674.6 L200.2,668.0 L200.2,661.4 L200.2,654.9 L200.2,648.6 L200.2,642.4 L200.2,636.4 L200.2,630.7 L200.2,625.3 L200.2,620.4 L200.2,616.5 L200.2,613.9 M208.7,828.5 L209.3,825.9 L210.1,822.0 L210.9,817.1 L211.6,811.7 L212.3,806.0 L212.9,800.0 L213.5,793.8 L214.0,787.5 L214.5,781.0 L214.9,774.4 L215.2,767.8 L215.5,761.1 L215.7,754.5 L215.9,747.8 L216.0,741.2 L216.1,734.5 L216.1,727.9 L216.2,721.2 L216.1,714.5 L216.1,707.9 L216.0,701.2 L215.9,694.6 L215.7,687.9 L215.5,681.3 L215.2,674.6 L214.9,668.0 L214.5,661.4 L214.0,654.9 L213.5,648.6 L212.9,642.4 L212.3,636.4 L211.6,630.7 L210.9,625.3 L210.1,620.4 L209.3,616.5 L208.7,613.9 M217.2,828.5 L218.5,825.9 L220.0,822.0 L221.7,817.1 L223.1,811.7 L224.5,806.0 L225.7,800.0 L226.9,793.8 L227.9,787.5 L228.8,781.0 L229.6,774.4 L230.3,767.8 L230.9,761.1 L231.3,754.5 L231.6,747.8 L231.8,741.2 L232.0,734.5 L232.1,727.9 L232.2,721.2 L232.1,714.5 L232.0,707.9 L231.8,701.2 L231.6,694.6 L231.3,687.9 L230.9,681.3 L230.3,674.6 L229.6,668.0 L228.8,661.4 L227.9,654.9 L226.9,648.6 L225.7,642.4 L224.5,636.4 L223.1,630.7 L221.7,625.3 L220.0,620.4 L218.5,616.5 L217.2,613.9 M225.7,828.5 L227.6,825.9 L230.0,822.0 L232.5,817.1 L234.6,811.7 L236.6,806.0 L238.5,800.0 L240.2,793.8 L241.8,787.5 L243.2,781.0 L244.4,774.4 L245.4,767.8 L246.2,761.1 L246.9,754.5 L247.3,747.8 L247.7,741.2 L247.9,734.5 L248.1,727.9 L248.2,721.2 L248.1,714.5 L247.9,707.9 L247.7,701.2 L247.3,694.6 L246.9,687.9 L246.2,681.3 L245.4,674.6 L244.4,668.0 L243.2,661.4 L241.8,654.9 L240.2,648.6 L238.5,642.4 L236.6,636.4 L234.6,630.7 L232.5,625.3 L230.0,620.4 L227.6,616.5 L225.7,613.9 M234.2,828.5 L236.8,825.9 L239.9,822.0 L243.2,817.1 L246.1,811.7 L248.8,806.0 L251.3,800.0 L253.6,793.8 L255.7,787.5 L257.5,781.0 L259.1,774.4 L260.5,767.8 L261.6,761.1 L262.4,754.5 L263.0,747.8 L263.5,741.2 L263.9,734.5 L264.1,727.9 L264.1,721.2 L264.1,714.5 L263.9,707.9 L263.5,701.2 L263.0,694.6 L262.4,687.9 L261.6,681.3 L260.5,674.6 L259.1,668.0 L257.5,661.4 L255.7,654.9 L253.6,648.6 L251.3,642.4 L248.8,636.4 L246.1,630.7 L243.2,625.3 L239.9,620.4 L236.8,616.5 L234.2,613.9 M242.7,828.5 L245.9,825.9 L249.9,822.0 L254.0,817.1 L257.6,811.7 L260.9,806.0 L264.0,800.0 L266.9,793.8 L269.6,787.5 L271.8,781.0 L273.9,774.4 L275.6,767.8 L276.9,761.1 L278.0,754.5 L278.7,747.8 L279.4,741.2 L279.8,734.5 L280.0,727.9 L280.1,721.2 L280.0,714.5 L279.8,707.9 L279.4,701.2 L278.7,694.6 L278.0,687.9 L276.9,681.3 L275.6,674.6 L273.9,668.0 L271.8,661.4 L269.6,654.9 L266.9,648.6 L264.0,642.4 L260.9,636.4 L257.6,630.7 L254.0,625.3 L249.9,620.4 L245.9,616.5 L242.7,613.9 M251.2,828.5 L255.1,825.9 L259.8,822.0 L264.8,817.1 L269.1,811.7 L273.1,806.0 L276.8,800.0 L280.3,793.8 L283.5,787.5 L286.2,781.0 L288.6,774.4 L290.6,767.8 L292.3,761.1 L293.6,754.5 L294.4,747.8 L295.2,741.2 L295.7,734.5 L296.0,727.9 L296.1,721.2 L296.0,714.5 L295.7,707.9 L295.2,701.2 L294.4,694.6 L293.6,687.9 L292.3,681.3 L290.6,674.6 L288.6,668.0 L286.2,661.4 L283.5,654.9 L280.3,648.6 L276.8,642.4 L273.1,636.4 L269.1,630.7 L264.8,625.3 L259.8,620.4 L255.1,616.5 L251.2,613.9 M259.8,828.5 L264.2,825.9 L269.7,822.0 L275.5,817.1 L280.6,811.7 L285.2,806.0 L289.6,800.0 L293.7,793.8 L297.4,787.5 L300.5,781.0 L303.4,774.4 L305.7,767.8 L307.7,761.1 L309.1,754.5 L310.2,747.8 L311.0,741.2 L311.6,734.5 L312.0,727.9 L312.1,721.2 L312.0,714.5 L311.6,707.9 L311.0,701.2 L310.2,694.6 L309.1,687.9 L307.7,681.3 L305.7,674.6 L303.4,668.0 L300.5,661.4 L297.4,654.9 L293.7,648.6 L289.6,642.4 L285.2,636.4 L280.6,630.7 L275.5,625.3 L269.7,620.4 L264.2,616.5 L259.8,613.9 M268.3,828.5 L273.4,825.9 L279.7,822.0 L286.3,817.1 L292.1,811.7 L297.4,806.0 L302.4,800.0 L307.0,793.8 L311.2,787.5 L314.9,781.0 L318.1,774.4 L320.8,767.8 L323.0,761.1 L324.7,754.5 L325.9,747.8 L326.9,741.2 L327.6,734.5 L328.0,727.9 L328.1,721.2 L328.0,714.5 L327.6,707.9 L326.9,701.2 L325.9,694.6 L324.7,687.9 L323.0,681.3 L320.8,674.6 L318.1,668.0 L314.9,661.4 L311.2,654.9 L307.0,648.6 L302.4,642.4 L297.4,636.4 L292.1,630.7 L286.3,625.3 L279.7,620.4 L273.4,616.5 L268.3,613.9 M276.8,828.5 L282.5,825.9 L289.6,822.0 L297.1,817.1 L303.6,811.7 L309.5,806.0 L315.1,800.0 L320.4,793.8 L325.1,787.5 L329.2,781.0 L332.9,774.4 L335.9,767.8 L338.4,761.1 L340.3,754.5 L341.6,747.8 L342.7,741.2 L343.5,734.5 L343.9,727.9 L344.1,721.2 L343.9,714.5 L343.5,707.9 L342.7,701.2 L341.6,694.6 L340.3,687.9 L338.4,681.3 L335.9,674.6 L332.9,668.0 L329.2,661.4 L325.1,654.9 L320.4,648.6 L315.1,642.4 L309.5,636.4 L303.6,630.7 L297.1,625.3 L289.6,620.4 L282.5,616.5 L276.8,613.9 M285.3,828.5 L291.7,825.9 L299.6,822.0 L307.9,817.1 L315.1,811.7 L321.7,806.0 L327.9,800.0 L333.8,793.8 L339.0,787.5 L343.5,781.0 L347.6,774.4 L351.0,767.8 L353.8,761.1 L355.8,754.5 L357.3,747.8 L358.5,741.2 L359.4,734.5 L359.9,727.9 L360.1,721.2 L359.9,714.5 L359.4,707.9 L358.5,701.2 L357.3,694.6 L355.8,687.9 L353.8,681.3 L351.0,674.6 L347.6,668.0 L343.5,661.4 L339.0,654.9 L333.8,648.6 L327.9,642.4 L321.7,636.4 L315.1,630.7 L307.9,625.3 L299.6,620.4 L291.7,616.5 L285.3,613.9 M293.8,828.5 L300.9,825.9 L309.5,822.0 L318.6,817.1 L326.6,811.7 L333.9,806.0 L340.7,800.0 L347.1,793.8 L352.9,787.5 L357.9,781.0 L362.4,774.4 L366.1,767.8 L369.1,761.1 L371.4,754.5 L373.0,747.8 L374.4,741.2 L375.3,734.5 L375.9,727.9 L376.1,721.2 L375.9,714.5 L375.3,707.9 L374.4,701.2 L373.0,694.6 L371.4,687.9 L369.1,681.3 L366.1,674.6 L362.4,668.0 L357.9,661.4 L352.9,654.9 L347.1,648.6 L340.7,642.4 L333.9,636.4 L326.6,630.7 L318.6,625.3 L309.5,620.4 L300.9,616.5 L293.8,613.9 M70.9,817.1 L329.4,817.1 M46.8,800.0 L353.5,800.0 M28.1,781.0 L372.2,781.0 M15.8,761.1 L384.5,761.1 M10.1,741.2 L390.2,741.2 M8.2,721.2 L392.1,721.2 M10.1,701.2 L390.2,701.2 M15.8,681.3 L384.5,681.3 M28.1,661.4 L372.2,661.4 M46.8,642.4 L353.5,642.4 M70.9,625.3 L329.4,625.3 " fill="none" stroke="#7d7d7d" stroke-width="0.9"/>
<path d="M61.4,633.0 L73.8,629.6 L83.7,631.3 L95.9,630.7 L105.3,633.0 L117.0,633.0 L126.6,630.7 L133.0,627.5 L135.9,634.1 L138.0,642.4 L140.0,652.4 L133.1,658.8 L126.1,662.7 L121.4,665.4 L113.8,670.7 L112.7,674.6 L106.3,680.0 L105.7,687.9 L104.4,683.9 L101.8,681.3 L96.4,682.6 L92.5,681.9 L88.7,685.3 L87.4,691.9 L92.0,696.6 L96.6,693.3 L96.8,699.9 L100.9,701.2 L100.3,707.9 L104.5,709.2 L106.6,710.6 L103.4,711.2 L98.2,707.9 L96.4,703.9 L91.3,701.9 L87.3,699.9 L78.6,694.6 L78.3,690.6 L74.3,689.3 L73.9,682.6 L72.6,680.0 L74.1,690.6 L70.4,683.9 L69.5,677.3 L67.4,674.6 L67.4,668.0 L71.9,660.1 L74.4,656.2 L72.4,653.7 L71.9,648.6 L72.6,644.9 L69.8,642.4 L64.3,641.2 L58.8,644.9 L52.3,646.1 L45.2,648.6 L51.8,644.9 L51.9,642.4 L53.1,640.0 L56.9,637.6 L55.9,635.8 ZM143.9,642.4 L152.4,642.4 L158.8,636.4 L174.9,630.7 L177.9,625.3 L180.9,620.4 L174.3,618.0 L164.8,618.0 L154.6,618.8 L144.7,622.4 L144.3,624.3 L150.6,625.3 L149.6,630.7 L149.7,635.3 ZM124.9,638.8 L134.2,640.0 L141.6,635.3 L139.6,630.7 L134.5,627.5 L125.7,627.5 L126.6,630.7 L128.0,634.1 ZM124.0,625.3 L135.8,624.3 L143.2,620.4 L135.3,618.8 L117.3,622.4 L106.1,625.3 L106.0,628.5 L117.2,628.5 ZM103.5,709.2 L106.6,710.6 L112.2,705.2 L121.6,707.2 L124.7,710.6 L133.0,714.5 L135.1,721.2 L141.5,723.9 L151.2,727.9 L151.3,733.2 L147.3,739.8 L146.7,747.8 L144.9,751.8 L139.1,755.8 L135.6,766.4 L131.7,771.7 L128.1,773.1 L126.3,777.0 L128.4,783.6 L126.7,788.7 L129.8,793.8 L124.2,791.3 L119.5,784.9 L117.5,777.0 L116.4,770.4 L116.2,761.1 L115.0,745.1 L108.2,739.8 L103.3,729.2 L102.1,725.2 L103.1,721.2 L105.3,718.5 L106.5,711.9 ZM170.9,693.3 L171.6,702.6 L170.5,703.9 L172.6,706.6 L174.6,710.6 L179.9,715.2 L185.2,714.5 L192.7,713.2 L198.0,715.9 L198.0,719.9 L201.2,727.9 L202.3,737.2 L201.2,743.8 L204.3,757.1 L207.2,766.4 L209.2,767.8 L214.3,766.4 L221.7,759.8 L225.1,753.1 L225.3,747.8 L230.8,741.2 L230.9,734.5 L230.0,727.9 L233.2,721.2 L238.5,715.9 L242.6,706.6 L235.1,705.2 L234.0,703.9 L229.6,698.6 L227.3,691.9 L224.9,685.3 L222.7,681.3 L219.5,680.0 L214.4,678.6 L209.3,680.0 L204.2,678.6 L200.2,677.3 L199.2,672.0 L194.2,672.0 L187.1,674.6 L183.1,673.3 L178.6,681.3 L175.4,684.6 ZM234.4,754.5 L237.5,754.5 L241.3,741.2 L240.4,737.2 L234.9,743.8 ZM179.1,673.3 L180.8,664.1 L187.6,663.4 L188.8,660.1 L186.1,657.5 L191.9,653.7 L194.7,651.1 L197.5,649.8 L198.4,646.1 L201.0,648.6 L199.3,644.9 L195.0,643.6 L195.1,640.0 L199.3,637.6 L203.3,633.0 L207.0,630.7 L213.0,629.6 L217.2,631.8 L223.1,634.1 L225.0,635.3 L226.0,633.0 L233.1,633.0 L238.1,631.8 L242.7,628.5 L248.8,633.0 L251.0,627.5 L254.7,625.3 L262.1,623.4 L264.5,622.4 L274.4,626.4 L284.2,627.5 L296.5,628.5 L305.3,629.6 L314.4,630.7 L322.0,630.7 L331.2,631.8 L337.1,636.4 L338.0,640.0 L335.6,642.4 L332.0,644.9 L334.6,648.6 L333.4,653.7 L326.2,646.1 L325.8,641.2 L322.8,642.4 L313.6,643.6 L313.3,649.8 L318.7,652.4 L321.1,657.5 L320.0,664.1 L315.8,665.4 L318.8,674.6 L315.8,674.6 L314.2,670.7 L311.2,668.0 L308.8,669.3 L310.8,672.0 L308.7,674.6 L312.0,678.6 L313.8,681.3 L313.0,686.6 L310.6,690.6 L303.7,693.3 L301.5,692.6 L299.8,695.9 L304.0,705.2 L300.0,709.2 L297.8,707.9 L294.3,703.9 L294.8,710.6 L299.3,719.2 L296.1,717.2 L292.6,710.6 L291.9,699.9 L287.4,697.3 L284.7,691.9 L280.5,691.9 L278.7,694.6 L273.0,701.2 L273.4,707.9 L270.3,710.6 L265.4,698.6 L263.9,693.3 L258.4,689.3 L253.1,687.9 L247.8,686.6 L246.6,685.3 L242.4,683.9 L238.0,681.3 L241.7,689.3 L246.9,688.6 L249.1,690.6 L250.3,691.9 L246.5,698.6 L243.4,699.9 L236.1,703.9 L234.0,703.9 L230.5,694.6 L224.9,683.9 L223.8,683.9 L221.6,680.0 L224.5,678.6 L225.2,673.3 L217.1,672.6 L215.0,669.3 L217.7,666.7 L215.7,665.4 L216.5,662.7 L218.2,660.1 L221.2,661.4 L224.0,661.4 L225.6,658.8 L229.5,666.7 L223.5,665.4 L218.7,666.7 L214.9,668.0 L213.0,670.7 L211.1,672.0 L210.0,668.0 L207.9,665.4 L203.0,661.4 L201.1,662.7 L205.0,666.7 L207.0,668.0 L205.1,670.7 L202.1,666.7 L200.2,665.4 L198.2,662.7 L194.3,664.1 L192.4,664.1 L192.4,665.4 L189.3,669.3 L188.2,672.0 L183.2,672.6 L180.2,672.0 ZM185.3,654.9 L191.0,653.7 L192.0,651.1 L188.7,647.3 L188.1,644.2 L185.4,644.9 L185.9,648.6 L187.6,649.8 L186.5,652.4 ZM181.0,652.4 L184.7,652.4 L185.0,648.6 L183.2,648.6 ZM171.5,637.6 L179.8,637.0 L180.1,635.3 L173.8,634.7 ZM321.6,680.0 L322.3,676.0 L325.8,674.6 L329.9,674.6 L329.1,670.7 L328.9,668.0 L326.5,665.4 L329.0,662.7 L324.6,660.1 L325.6,665.4 L327.1,670.7 L325.3,673.3 L321.3,676.0 ZM289.6,714.5 L292.8,715.9 L299.3,723.9 L301.3,729.2 L296.1,725.2 L289.7,717.2 ZM304.6,718.5 L312.9,711.9 L315.2,714.5 L312.0,726.5 L305.7,725.2 ZM300.2,729.2 L309.7,730.5 L309.6,732.5 L301.2,730.5 ZM328.1,722.5 L335.5,723.9 L343.9,727.9 L347.7,734.5 L340.4,733.2 L335.2,731.8 L329.1,726.5 ZM314.7,697.3 L316.8,697.3 L319.9,705.2 L322.5,711.9 L318.2,711.9 L315.4,702.6 ZM307.7,750.5 L306.8,755.8 L305.1,766.4 L307.7,767.8 L313.2,766.4 L321.1,763.8 L324.8,767.8 L327.9,767.8 L328.1,771.7 L332.8,772.4 L338.7,770.4 L344.5,763.8 L347.5,754.5 L345.2,750.5 L341.8,746.5 L341.7,741.2 L339.1,735.8 L337.7,738.5 L337.0,743.8 L332.1,741.2 L333.6,737.2 L328.5,735.8 L326.1,738.5 L321.7,739.8 L317.0,743.8 ZM362.3,767.1 L363.6,770.4 L365.8,771.7 L360.0,776.4 L354.9,779.7 L348.8,782.9 L349.3,781.0 L357.5,775.7 ZM199.5,622.4 L206.1,620.4 L211.4,620.4 L207.8,623.4 L202.9,623.4 ZM231.2,629.6 L233.9,625.3 L239.8,623.4 L237.8,627.5 L233.9,630.7 ZM76.9,820.0 L88.1,819.0 L103.5,814.9 L117.2,813.9 L134.2,811.7 L142.0,804.8 L143.9,803.6 L141.6,807.1 L149.2,817.1 L165.2,820.0 L177.3,814.9 L191.7,811.7 L214.9,810.6 L239.0,808.3 L263.5,807.1 L287.5,807.1 L309.1,809.4 L315.2,813.9 L308.4,820.0 L323.4,820.0 L302.3,828.5 L98.0,828.5 Z" fill="#fff" stroke="#909090" stroke-width="0.8" stroke-linejoin="round"/>
<path d="M109.0,643.6 L110.0,646.1 L114.6,648.6 L117.2,652.4 L120.0,648.6 L125.2,642.4 L125.8,640.0 L121.6,637.6 L116.6,638.8 L111.6,641.2 Z M234.6,661.4 L240.3,661.4 L242.4,668.0 L241.0,672.0 L237.8,670.7 L238.1,665.4 Z" fill="#fff" stroke="#8c8c8c" stroke-width="0.9"/>
<circle cx="80.2" cy="642.3" r="4.4" fill="#777"/>
<circle cx="101.5" cy="635.0" r="4.4" fill="#777"/>
<circle cx="109.9" cy="643.1" r="4.4" fill="#777"/>
<circle cx="89.8" cy="658.3" r="4.4" fill="#777"/>
<circle cx="115.7" cy="718.1" r="4.4" fill="#777"/>
<circle cx="141.4" cy="721.0" r="4.4" fill="#777"/>
<circle cx="115.7" cy="751.0" r="4.4" fill="#777"/>
<circle cx="141.4" cy="751.0" r="4.4" fill="#777"/>
<circle cx="124.8" cy="763.8" r="4.4" fill="#777"/>
<circle cx="124.8" cy="783.7" r="4.4" fill="#777"/>
<circle cx="201.2" cy="688.9" r="4.4" fill="#777"/>
<circle cx="184.5" cy="708.7" r="4.4" fill="#777"/>
<circle cx="229.7" cy="721.0" r="4.4" fill="#777"/>
<circle cx="213.4" cy="736.4" r="4.4" fill="#777"/>
<circle cx="226.8" cy="736.4" r="4.4" fill="#777"/>
<circle cx="205.5" cy="755.1" r="4.4" fill="#777"/>
<circle cx="238.5" cy="658.3" r="4.4" fill="#777"/>
<circle cx="251.3" cy="645.2" r="4.4" fill="#777"/>
<circle cx="268.2" cy="635.0" r="4.4" fill="#777"/>
<circle cx="279.3" cy="645.2" r="4.4" fill="#777"/>
<circle cx="268.2" cy="658.3" r="4.4" fill="#777"/>
<circle cx="293.0" cy="635.0" r="4.4" fill="#777"/>
<circle cx="318.4" cy="635.0" r="4.4" fill="#777"/>
<circle cx="309.0" cy="658.3" r="4.4" fill="#777"/>
<circle cx="251.3" cy="681.6" r="4.4" fill="#777"/>
<circle cx="282.2" cy="681.6" r="4.4" fill="#777"/>
<circle cx="293.0" cy="681.6" r="4.4" fill="#777"/>
<circle cx="238.5" cy="691.0" r="4.4" fill="#777"/>
<circle cx="268.2" cy="691.0" r="4.4" fill="#777"/>
<circle cx="318.4" cy="755.1" r="4.4" fill="#777"/>
<circle cx="338.2" cy="763.8" r="4.4" fill="#777"/>
<circle cx="113.1" cy="663.3" r="4.4" fill="#1560d0"/>
<circle cx="84.5" cy="677.3" r="4.4" fill="#c84840"/>
<circle cx="128.3" cy="743.7" r="4.4" fill="#66dd66"/>
<circle cx="229.7" cy="642.3" r="4.4" fill="#f4c0a0"/>
<circle cx="279.3" cy="658.3" r="4.4" fill="#f4f000"/>
<circle cx="213.4" cy="708.7" r="4.4" fill="#b8e8f4"/>
<circle cx="334.7" cy="752.5" r="4.4" fill="#e81010"/>
<!-- INPUT BOXES -->
<g fill="none" stroke="#000" stroke-width="4.2" stroke-linejoin="round">
<rect x="3.1" y="82.1" width="395.9" height="254.3"/>
<rect x="3.1" y="343.8" width="395.9" height="256.7"/>
<rect x="3.5" y="608" width="396.8" height="227.8"/>
</g>
<g id="inlabels">
<text x="49.4" y="104.4" text-anchor="middle">Voice</text>
<text x="50.4" y="135.3" text-anchor="middle">Text</text>
<text x="50.5" y="363.6" text-anchor="middle">Image</text>
<text x="49.6" y="393.5" text-anchor="middle">Video</text>
<text x="49.3" y="630.5" text-anchor="middle">3D</text>
<text x="49.1" y="660.6" text-anchor="middle">Point</text>
</g>

<!-- input arrows to neuron column -->
<g fill="#808080" stroke="none">
<g id="inarr">
<rect x="400" y="275.8" width="8" height="4"/><polygon points="406,266.1 428.5,277.8 406,289.5"/>
<rect x="400" y="323.5" width="8" height="4"/><polygon points="406,313.8 428.5,325.5 406,337.2"/>
<rect x="400" y="376.0" width="8" height="4"/><polygon points="406,366.3 428.5,378.0 406,389.7"/>
<rect x="400" y="429.6" width="8" height="4"/><polygon points="406,419.9 428.5,431.6 406,443.3"/>
<rect x="400" y="483.0" width="8" height="4"/><polygon points="406,473.3 428.5,485.0 406,496.7"/>
<rect x="400" y="536.4" width="8" height="4"/><polygon points="406,526.7 428.5,538.4 406,550.1"/>
<rect x="400" y="589.6" width="8" height="4"/><polygon points="406,579.9 428.5,591.6 406,603.3"/>
<rect x="400" y="643.0" width="8" height="4"/><polygon points="406,633.3 428.5,645.0 406,656.7"/>
</g>
</g>

<!-- neuron column -->
<rect x="429.4" y="249.6" width="52.8" height="424.4" fill="none" stroke="#808080" stroke-width="4.3"/>
<g fill="#efefef" stroke="#a0a0a0" stroke-width="2.2">
<circle cx="454.5" cy="275.6" r="17.3"/>
<circle cx="454.5" cy="324.8" r="17.3"/>
<circle cx="454.5" cy="378.2" r="17.3"/>
<circle cx="454.5" cy="431.6" r="17.3"/>
<circle cx="454.5" cy="485" r="17.3"/>
<circle cx="454.5" cy="538.2" r="17.3"/>
<circle cx="454.5" cy="591.8" r="17.3"/>
<circle cx="454.5" cy="645.1" r="17.3"/>
</g>

<!-- Conv / Relu / Pool -->
<g fill="#efefef" stroke="#c8c8c8" stroke-width="2">
<rect x="487.7" y="383.4" width="98.5" height="34.3"/>
<rect x="487.7" y="446" width="98.5" height="34"/>
<rect x="487.7" y="508" width="98.5" height="34.7"/>
</g>
<path d="M515.2,393.2 L515.2,391 L497,391 L506.8,401 L497,410.8 L516,410.8 L516,408.6" fill="none" stroke="#25ad25" stroke-width="1.9" stroke-linejoin="miter"/>
<path d="M503.3,476.1 L557.5,476.1 L571.5,454.2" fill="none" stroke="#111" stroke-width="1.5"/>
<rect x="490.2" y="513.6" width="23.6" height="23.3" fill="#e6f2fb" stroke="#9a8070" stroke-width="0.9"/>
<path d="M502,513.6 L502,536.9 M490.2,525.25 L513.8,525.25" stroke="#9a8070" stroke-width="0.9"/>
<g fill="#1565c0"><circle cx="495.9" cy="519.6" r="2.7"/><circle cx="507.3" cy="519.6" r="2.7"/><circle cx="495.9" cy="531.2" r="2.7"/><circle cx="507.3" cy="531.2" r="2.7"/></g>
<path d="M513.8,513.6 L522.2,518.9 M513.8,536.9 L522.2,531.1" stroke="#999" stroke-width="0.8" stroke-dasharray="1.2 1.2"/>
<rect x="522.2" y="518.9" width="12.2" height="12.2" fill="#f4f4f4" stroke="#777" stroke-width="1"/>
<circle cx="528.3" cy="525" r="2.6" fill="#45dcc4"/>
<text x="547.7" y="409" text-anchor="middle">Conv</text>
<text x="536.7" y="470" text-anchor="middle">Relu</text>
<text x="559.7" y="532" text-anchor="middle">Pool</text>
<g fill="#595959">
<rect x="485.7" y="428.8" width="71" height="4.6"/>
<polygon points="555.4,418.6 579.2,431.1 555.4,443.6"/>
<rect x="485.7" y="492.8" width="71" height="4.6"/>
<polygon points="555.4,482.6 579.2,495.1 555.4,507.6"/>
</g>

<!-- HIDDEN BOX -->
<rect x="592.7" y="82.7" width="396.4" height="755.9" fill="none" stroke="#000" stroke-width="4.5" stroke-linejoin="round"/>
<text x="635" y="119.8" text-anchor="middle">RNN</text>
<text x="634" y="395.6" text-anchor="middle">CNN</text>
<text x="634" y="627.3" text-anchor="middle">GNN</text>

<g id="rnn">
<rect x="626.70" y="193.00" width="4.4" height="27.00" fill="#000"/>
<polygon points="616.70,192.50 628.90,167.50 641.10,192.50" fill="#000"/>
<rect x="626.70" y="278.00" width="4.4" height="30.40" fill="#000"/>
<polygon points="616.70,279.50 628.90,255.50 641.10,279.50" fill="#000"/>
<path d="M664.9,236.4 L703,236.4 L703,229 L738,243.3 L703,257.6 L703,250.2 L664.9,250.2 Z" fill="url(#gA)" stroke="#c8c8c8" stroke-width="1"/>
<path d="M632,220 C655,220 676,232 672,246 C668,256 655,259 648,259.5" fill="none" stroke="#000" stroke-width="2.6"/>
<polygon points="636.3,255.5 655.4,246.5 658.6,264.5" fill="#000"/>
<circle cx="628.9" cy="237.5" r="16.3" fill="#efefef" stroke="#000" stroke-width="5"/>
<text class="it" x="631" y="164.4" text-anchor="middle" style="font-size:25.3px">o</text>
<text class="it" x="642" y="213" text-anchor="middle" style="font-size:25.3px">V</text>
<text class="it" x="601.5" y="230" text-anchor="middle" style="font-size:25.3px">s</text>
<text class="it" x="680.5" y="225.8" text-anchor="middle" style="font-size:25.3px">W</text>
<text class="it" x="641.5" y="297.8" text-anchor="middle" style="font-size:25.3px">U</text>
<text class="it" x="628.5" y="329.6" text-anchor="middle" style="font-size:25.3px">x</text>
<rect x="741.40" y="241.60" width="35.60" height="4.4" fill="#000"/>
<polygon points="775.30,232.10 800.70,243.80 775.30,255.50" fill="#000"/>
<rect x="818.60" y="198.00" width="4.4" height="28.00" fill="#000"/>
<polygon points="808.60,198.10 820.80,173.90 833.00,198.10" fill="#000"/>
<rect x="818.60" y="284.00" width="4.4" height="30.80" fill="#000"/>
<polygon points="808.60,285.60 820.80,262.90 833.00,285.60" fill="#000"/>
<rect x="838.00" y="240.60" width="37.00" height="4.4" fill="#000"/>
<polygon points="873.90,230.60 897.60,242.30 873.90,254.00" fill="#000"/>
<circle cx="820.8" cy="243.8" r="16.4" fill="#efefef" stroke="#000" stroke-width="5"/>
<text class="it" x="756.7" y="266" text-anchor="middle" style="font-size:25.3px">W</text>
<text class="it" x="777.5" y="226.9" text-anchor="middle" style="font-size:25.3px">s</text>
<text class="it" x="791.7" y="230" text-anchor="middle" style="font-size:17.5px">t-1</text>
<text class="it" x="832.5" y="218.4" text-anchor="middle" style="font-size:25.3px">V</text>
<text class="it" x="816.5" y="162.2" text-anchor="middle" style="font-size:25.3px">o</text>
<text class="it" x="831.8" y="165.4" text-anchor="middle" style="font-size:17.5px">t-1</text>
<text class="it" x="832" y="304.2" text-anchor="middle" style="font-size:25.3px">U</text>
<text class="it" x="853.6" y="265" text-anchor="middle" style="font-size:25.3px">W</text>
<rect x="915.10" y="195.00" width="4.4" height="28.00" fill="#000"/>
<polygon points="905.60,195.10 917.30,171.30 929.00,195.10" fill="#000"/>
<rect x="915.10" y="281.00" width="4.4" height="30.10" fill="#000"/>
<polygon points="905.60,282.00 917.30,259.20 929.00,282.00" fill="#000"/>
<rect x="935.00" y="243.30" width="25.00" height="4.4" fill="#000"/>
<polygon points="958.60,233.30 982.00,245.50 958.60,257.70" fill="#000"/>
<circle cx="917.3" cy="241.7" r="16.4" fill="#efefef" stroke="#000" stroke-width="5"/>
<text class="it" x="911" y="158.6" text-anchor="middle" style="font-size:25.3px">o</text>
<text class="it" x="920" y="161.8" text-anchor="middle" style="font-size:17.5px">t</text>
<text class="it" x="929" y="215.8" text-anchor="middle" style="font-size:25.3px">V</text>
<text class="it" x="889.7" y="225.3" text-anchor="middle" style="font-size:25.3px">s</text>
<text class="it" x="898" y="228.5" text-anchor="middle" style="font-size:17.5px">t</text>
<text class="it" x="943.8" y="269.8" text-anchor="middle" style="font-size:25.3px">W</text>
<text class="it" x="929" y="300.5" text-anchor="middle" style="font-size:25.3px">U</text>
</g>
<g id="cnn">
<rect x="627.10" y="451.20" width="85.80" height="67.60" rx="6.38" fill="#fff" stroke="#000" stroke-width="5.8"/>
<clipPath id="c624448"><rect x="630.00" y="454.10" width="80.00" height="61.80"/></clipPath>
<g clip-path="url(#c624448)" fill="none" stroke="#000" stroke-width="5.92" stroke-linejoin="miter">
<polyline points="622.0,506.0 653.7,475.0 697.0,521.0"/>
<polyline points="672.0,498.0 686.7,484.2 716.0,512.0"/>
</g>
<rect x="677.10" y="457.90" width="24.10" height="20.80" fill="#fff" stroke="#e00000" stroke-width="4.2"/>
<circle cx="690" cy="466.3" r="6.7" fill="#000"/>
<rect x="744.80" y="427.10" width="57.50" height="45.80" rx="5" fill="#fff" stroke="#000" stroke-width="4.4"/>
<rect x="752.50" y="438.80" width="57.50" height="45.80" rx="5" fill="#fff" stroke="#000" stroke-width="4.4"/>
<rect x="761.40" y="448.30" width="57.50" height="45.80" rx="5" fill="#fff" stroke="#000" stroke-width="4.4"/>
<rect x="769.60" y="461.10" width="57.50" height="45.80" rx="5" fill="#fff" stroke="#000" stroke-width="4.4"/>
<rect x="777.90" y="472.50" width="57.50" height="45.80" rx="5" fill="#fff" stroke="#000" stroke-width="4.4"/>
<rect x="845.75" y="418.75" width="40.30" height="31.90" rx="4" fill="#fff" stroke="#000" stroke-width="3.7"/>
<rect x="851.84" y="426.70" width="40.30" height="31.90" rx="4" fill="#fff" stroke="#000" stroke-width="3.7"/>
<rect x="857.93" y="434.64" width="40.30" height="31.90" rx="4" fill="#fff" stroke="#000" stroke-width="3.7"/>
<rect x="864.02" y="442.59" width="40.30" height="31.90" rx="4" fill="#fff" stroke="#000" stroke-width="3.7"/>
<rect x="870.11" y="450.53" width="40.30" height="31.90" rx="4" fill="#fff" stroke="#000" stroke-width="3.7"/>
<rect x="876.20" y="458.48" width="40.30" height="31.90" rx="4" fill="#fff" stroke="#000" stroke-width="3.7"/>
<rect x="882.30" y="466.42" width="40.30" height="31.90" rx="4" fill="#fff" stroke="#000" stroke-width="3.7"/>
<rect x="888.39" y="474.37" width="40.30" height="31.90" rx="4" fill="#fff" stroke="#000" stroke-width="3.7"/>
<rect x="894.48" y="482.31" width="40.30" height="31.90" rx="4" fill="#fff" stroke="#000" stroke-width="3.7"/>
<rect x="900.57" y="490.26" width="40.30" height="31.90" rx="4" fill="#fff" stroke="#000" stroke-width="3.7"/>
<rect x="906.66" y="498.20" width="40.30" height="31.90" rx="4" fill="#fff" stroke="#000" stroke-width="3.7"/>
<rect x="786.80" y="483.30" width="57.90" height="45.80" rx="4.840000000000001" fill="#fff" stroke="#000" stroke-width="4.4"/>
<clipPath id="c784481"><rect x="789.00" y="485.50" width="53.50" height="41.40"/></clipPath>
<g clip-path="url(#c784481)" fill="none" stroke="#000" stroke-width="4.49" stroke-linejoin="miter">
<polyline points="783.0,517.0 804.3,499.5 832.0,530.0"/>
<polyline points="816.0,515.0 826.5,505.9 847.0,525.0"/>
</g>
<rect x="818.30" y="486.20" width="22.20" height="19.10" fill="#fff" stroke="#e00000" stroke-width="3.8"/>
<circle cx="828.8" cy="493.6" r="4.1" fill="#000"/>
<rect x="912.75" y="506.15" width="40.50" height="31.90" rx="4.07" fill="#fff" stroke="#000" stroke-width="3.7"/>
<clipPath id="c910504"><rect x="914.60" y="508.00" width="36.80" height="28.20"/></clipPath>
<g clip-path="url(#c910504)" fill="none" stroke="#000" stroke-width="3.77" stroke-linejoin="miter">
<polyline points="909.0,530.0 925.4,517.7 944.0,539.0"/>
<polyline points="935.0,528.0 943.2,522.1 957.0,535.0"/>
</g>
<rect x="935.35" y="506.75" width="15.70" height="15.10" fill="#fff" stroke="#e00000" stroke-width="3.5"/>
<circle cx="942.9" cy="513.2" r="3.0" fill="#000"/>
<g stroke="#e00000" stroke-width="2.2" fill="none">
<line x1="703.9" y1="456.4" x2="816.4" y2="489.4"/>
<line x1="703.9" y1="478.3" x2="816.4" y2="490.5"/>
<line x1="842.4" y1="486.8" x2="933.6" y2="511"/>
<line x1="842.4" y1="504" x2="933.6" y2="514.5"/>
</g>
</g>
<g id="gnn">
<g stroke="#000" stroke-width="2.6">
<line x1="658.7" y1="665.1" x2="634.8" y2="698.1"/>
<line x1="634.8" y1="698.1" x2="676.8" y2="723.7"/>
<line x1="634.8" y1="698.1" x2="628.7" y2="757.0"/>
<line x1="668.0" y1="690.8" x2="676.8" y2="723.7"/>
<line x1="711.8" y1="698.1" x2="676.8" y2="723.7"/>
<line x1="711.8" y1="698.1" x2="701.9" y2="757.8"/>
<line x1="676.8" y1="723.7" x2="628.7" y2="757.0"/>
<line x1="676.8" y1="723.7" x2="665.1" y2="757.8"/>
<line x1="676.8" y1="723.7" x2="701.9" y2="757.8"/>
<line x1="628.7" y1="757.0" x2="665.1" y2="757.8"/>
<line x1="665.1" y1="757.8" x2="701.9" y2="757.8"/>
<circle cx="658.7" cy="665.1" r="8.0" fill="#fff"/>
<circle cx="634.8" cy="698.1" r="8.0" fill="#fff"/>
<circle cx="668.0" cy="690.8" r="8.0" fill="#fff"/>
<circle cx="711.8" cy="698.1" r="8.0" fill="#fff"/>
<circle cx="676.8" cy="723.7" r="8.0" fill="#fff"/>
<circle cx="628.7" cy="757.0" r="8.0" fill="#fff"/>
<circle cx="665.1" cy="757.8" r="8.0" fill="#fff"/>
<circle cx="701.9" cy="757.8" r="8.0" fill="#fff"/>
</g>
<g stroke="#000" stroke-width="2.2">
<line x1="802.9" y1="599.4" x2="787.1" y2="621.0"/>
<line x1="787.1" y1="621.0" x2="814.6" y2="638.6"/>
<line x1="787.1" y1="621.0" x2="783.1" y2="660.2"/>
<line x1="809.2" y1="616.5" x2="814.6" y2="638.6"/>
<line x1="837.6" y1="621.0" x2="814.6" y2="638.6"/>
<line x1="837.6" y1="621.0" x2="831.3" y2="660.7"/>
<line x1="814.6" y1="638.6" x2="783.1" y2="660.2"/>
<line x1="814.6" y1="638.6" x2="806.9" y2="660.7"/>
<line x1="814.6" y1="638.6" x2="831.3" y2="660.7"/>
<line x1="783.1" y1="660.2" x2="806.9" y2="660.7"/>
<line x1="806.9" y1="660.7" x2="831.3" y2="660.7"/>
<circle cx="802.9" cy="599.4" r="5.2" fill="#e00000"/>
<circle cx="787.1" cy="621.0" r="5.2" fill="#fff"/>
<circle cx="809.2" cy="616.5" r="5.2" fill="#fff"/>
<circle cx="837.6" cy="621.0" r="5.2" fill="#fff"/>
<circle cx="814.6" cy="638.6" r="5.2" fill="#fff"/>
<circle cx="783.1" cy="660.2" r="5.2" fill="#fff"/>
<circle cx="806.9" cy="660.7" r="5.2" fill="#fff"/>
<circle cx="831.3" cy="660.7" r="5.2" fill="#fff"/>
</g>
<g stroke="#000" stroke-width="2.2">
<line x1="802.9" y1="680.2" x2="787.1" y2="701.8"/>
<line x1="787.1" y1="701.8" x2="814.6" y2="719.4"/>
<line x1="787.1" y1="701.8" x2="783.1" y2="741.0"/>
<line x1="809.2" y1="697.3" x2="814.6" y2="719.4"/>
<line x1="837.6" y1="701.8" x2="814.6" y2="719.4"/>
<line x1="837.6" y1="701.8" x2="831.3" y2="741.5"/>
<line x1="814.6" y1="719.4" x2="783.1" y2="741.0"/>
<line x1="814.6" y1="719.4" x2="806.9" y2="741.5"/>
<line x1="814.6" y1="719.4" x2="831.3" y2="741.5"/>
<line x1="783.1" y1="741.0" x2="806.9" y2="741.5"/>
<line x1="806.9" y1="741.5" x2="831.3" y2="741.5"/>
<circle cx="802.9" cy="680.2" r="5.2" fill="#fff"/>
<circle cx="787.1" cy="701.8" r="5.2" fill="#e00000"/>
<circle cx="809.2" cy="697.3" r="5.2" fill="#fff"/>
<circle cx="837.6" cy="701.8" r="5.2" fill="#fff"/>
<circle cx="814.6" cy="719.4" r="5.2" fill="#fff"/>
<circle cx="783.1" cy="741.0" r="5.2" fill="#fff"/>
<circle cx="806.9" cy="741.5" r="5.2" fill="#fff"/>
<circle cx="831.3" cy="741.5" r="5.2" fill="#fff"/>
</g>
<g stroke="#000" stroke-width="2.2">
<line x1="802.9" y1="761.8" x2="787.1" y2="783.4"/>
<line x1="787.1" y1="783.4" x2="814.6" y2="801.0"/>
<line x1="787.1" y1="783.4" x2="783.1" y2="822.6"/>
<line x1="809.2" y1="778.9" x2="814.6" y2="801.0"/>
<line x1="837.6" y1="783.4" x2="814.6" y2="801.0"/>
<line x1="837.6" y1="783.4" x2="831.3" y2="823.1"/>
<line x1="814.6" y1="801.0" x2="783.1" y2="822.6"/>
<line x1="814.6" y1="801.0" x2="806.9" y2="823.1"/>
<line x1="814.6" y1="801.0" x2="831.3" y2="823.1"/>
<line x1="783.1" y1="822.6" x2="806.9" y2="823.1"/>
<line x1="806.9" y1="823.1" x2="831.3" y2="823.1"/>
<circle cx="802.9" cy="761.8" r="5.2" fill="#fff"/>
<circle cx="787.1" cy="783.4" r="5.2" fill="#fff"/>
<circle cx="809.2" cy="778.9" r="5.2" fill="#fff"/>
<circle cx="837.6" cy="783.4" r="5.2" fill="#fff"/>
<circle cx="814.6" cy="801.0" r="5.2" fill="#e00000"/>
<circle cx="783.1" cy="822.6" r="5.2" fill="#fff"/>
<circle cx="806.9" cy="823.1" r="5.2" fill="#fff"/>
<circle cx="831.3" cy="823.1" r="5.2" fill="#fff"/>
</g>
<g stroke="#000" stroke-width="2.2">
<line x1="916.0" y1="599.4" x2="900.2" y2="621.0"/>
<line x1="900.2" y1="621.0" x2="927.7" y2="638.6"/>
<line x1="900.2" y1="621.0" x2="896.2" y2="660.2"/>
<line x1="922.3" y1="616.5" x2="927.7" y2="638.6"/>
<line x1="950.7" y1="621.0" x2="927.7" y2="638.6"/>
<line x1="950.7" y1="621.0" x2="944.4" y2="660.7"/>
<line x1="927.7" y1="638.6" x2="896.2" y2="660.2"/>
<line x1="927.7" y1="638.6" x2="920.0" y2="660.7"/>
<line x1="927.7" y1="638.6" x2="944.4" y2="660.7"/>
<line x1="896.2" y1="660.2" x2="920.0" y2="660.7"/>
<line x1="920.0" y1="660.7" x2="944.4" y2="660.7"/>
<circle cx="916.0" cy="599.4" r="5.2" fill="#e00000"/>
<circle cx="900.2" cy="621.0" r="5.2" fill="#fff"/>
<circle cx="922.3" cy="616.5" r="5.2" fill="#fff"/>
<circle cx="950.7" cy="621.0" r="5.2" fill="#fff"/>
<circle cx="927.7" cy="638.6" r="5.2" fill="#fff"/>
<circle cx="896.2" cy="660.2" r="5.2" fill="#fff"/>
<circle cx="920.0" cy="660.7" r="5.2" fill="#fff"/>
<circle cx="944.4" cy="660.7" r="5.2" fill="#fff"/>
</g>
<g stroke="#000" stroke-width="2.2">
<line x1="916.0" y1="680.2" x2="900.2" y2="701.8"/>
<line x1="900.2" y1="701.8" x2="927.7" y2="719.4"/>
<line x1="900.2" y1="701.8" x2="896.2" y2="741.0"/>
<line x1="922.3" y1="697.3" x2="927.7" y2="719.4"/>
<line x1="950.7" y1="701.8" x2="927.7" y2="719.4"/>
<line x1="950.7" y1="701.8" x2="944.4" y2="741.5"/>
<line x1="927.7" y1="719.4" x2="896.2" y2="741.0"/>
<line x1="927.7" y1="719.4" x2="920.0" y2="741.5"/>
<line x1="927.7" y1="719.4" x2="944.4" y2="741.5"/>
<line x1="896.2" y1="741.0" x2="920.0" y2="741.5"/>
<line x1="920.0" y1="741.5" x2="944.4" y2="741.5"/>
<circle cx="916.0" cy="680.2" r="5.2" fill="#fff"/>
<circle cx="900.2" cy="701.8" r="5.2" fill="#e00000"/>
<circle cx="922.3" cy="697.3" r="5.2" fill="#fff"/>
<circle cx="950.7" cy="701.8" r="5.2" fill="#fff"/>
<circle cx="927.7" cy="719.4" r="5.2" fill="#fff"/>
<circle cx="896.2" cy="741.0" r="5.2" fill="#fff"/>
<circle cx="920.0" cy="741.5" r="5.2" fill="#fff"/>
<circle cx="944.4" cy="741.5" r="5.2" fill="#fff"/>
</g>
<g stroke="#000" stroke-width="2.2">
<line x1="916.0" y1="761.8" x2="900.2" y2="783.4"/>
<line x1="900.2" y1="783.4" x2="927.7" y2="801.0"/>
<line x1="900.2" y1="783.4" x2="896.2" y2="822.6"/>
<line x1="922.3" y1="778.9" x2="927.7" y2="801.0"/>
<line x1="950.7" y1="783.4" x2="927.7" y2="801.0"/>
<line x1="950.7" y1="783.4" x2="944.4" y2="823.1"/>
<line x1="927.7" y1="801.0" x2="896.2" y2="822.6"/>
<line x1="927.7" y1="801.0" x2="920.0" y2="823.1"/>
<line x1="927.7" y1="801.0" x2="944.4" y2="823.1"/>
<line x1="896.2" y1="822.6" x2="920.0" y2="823.1"/>
<line x1="920.0" y1="823.1" x2="944.4" y2="823.1"/>
<circle cx="916.0" cy="761.8" r="5.2" fill="#fff"/>
<circle cx="900.2" cy="783.4" r="5.2" fill="#fff"/>
<circle cx="922.3" cy="778.9" r="5.2" fill="#fff"/>
<circle cx="950.7" cy="783.4" r="5.2" fill="#fff"/>
<circle cx="927.7" cy="801.0" r="5.2" fill="#e00000"/>
<circle cx="896.2" cy="822.6" r="5.2" fill="#fff"/>
<circle cx="920.0" cy="823.1" r="5.2" fill="#fff"/>
<circle cx="944.4" cy="823.1" r="5.2" fill="#fff"/>
</g>
<rect x="718.50" y="721.20" width="32.50" height="4.4" fill="#000"/>
<polygon points="749.10,711.70 773.00,723.40 749.10,735.10" fill="#000"/>
<rect x="838.90" y="717.20" width="31.10" height="4.4" fill="#000"/>
<polygon points="868.60,707.00 893.40,719.40 868.60,731.80" fill="#000"/>
</g>
<!-- FC section -->
<g fill="none" stroke="#808080" stroke-width="4.3" stroke-linejoin="round">
<rect x="1061.7" y="258.3" width="53.4" height="53.2"/>
<rect x="1061.8" y="579.8" width="53.4" height="123.8"/>
<polyline points="991,462.4 1024,284.6 1037,284.6"/>
<polyline points="991,462.4 1023,641 1036,641"/>
<polyline points="1117,284.2 1125.5,284.2 1130,463.4 1144,463.4"/>
<polyline points="1117,641 1126.3,641 1130,463.4"/>
<line x1="1144.9" y1="125" x2="1144.9" y2="827.5"/>
<polyline points="1144.9,127 1181,127"/>
<line x1="1144.9" y1="284.6" x2="1181" y2="284.6"/>
<line x1="1144.9" y1="451.6" x2="1181" y2="451.6"/>
<line x1="1144.9" y1="641" x2="1181" y2="641"/>
<polyline points="1144.9,825.3 1182,825.3"/>
</g>
<g fill="#808080">
<polygon points="1035,272.7 1058.3,284.6 1035,296.5"/>
<polygon points="1034,629.1 1057.5,641 1034,652.9"/>
<polygon points="1179.3,115.1 1202.3,127 1179.3,138.9"/>
<polygon points="1179.3,272.7 1203,284.6 1179.3,296.5"/>
<polygon points="1179.3,439.7 1203,451.6 1179.3,463.5"/>
<polygon points="1179.3,629.1 1203,641 1179.3,652.9"/>
<polygon points="1181.7,813.5 1205.8,825.3 1181.7,837.1"/>
</g>
<g fill="#efefef" stroke="#999" stroke-width="2">
<circle cx="1088.3" cy="285" r="17.3"/>
<circle cx="1089" cy="605.2" r="17.3"/>
<circle cx="1089.6" cy="677.3" r="17.3"/>
</g>
<g fill="#707070">
<circle cx="1089" cy="634.1" r="2.6"/>
<circle cx="1089" cy="642.4" r="2.6"/>
<circle cx="1089" cy="650.6" r="2.6"/>
</g>
<text x="1059.6" y="351.3" text-anchor="middle">Fully</text>
<text x="1059.5" y="376.2" text-anchor="middle">connected</text>
<text x="1018.3" y="473.7" text-anchor="middle">or</text>
<text x="1068.5" y="540.2" text-anchor="middle">Fully</text>
<text x="1068.7" y="565.3" text-anchor="middle">convolutional</text>

<use href="#hbird" x="1211.20" y="68.28" width="47.50" height="48.23"/>
<use href="#fir" x="1310.24" y="67.42" width="23.22" height="45.55"/>
<use href="#cat" x="1383.92" y="73.69" width="34.67" height="35.24"/>
<use href="#eleph" x="1216.73" y="140.47" width="39.35" height="29.88"/>
<use href="#whale" x="1304.54" y="141.55" width="39.91" height="32.62"/>
<use href="#dog" x="1387.71" y="140.14" width="33.19" height="35.61"/>
<use href="#hbird" x="1222.10" y="230.78" width="47.50" height="48.13"/>
<use href="#eleph" x="1269.04" y="306.27" width="38.23" height="29.98"/>
<use href="#fir" x="1326.02" y="236.66" width="45.36" height="90.38"/>
<use href="#fir" x="1382.33" y="251.47" width="42.34" height="89.96"/>
<use href="#eleph" x="1212.44" y="404.04" width="47.91" height="37.63" style="--f:#a8c3ec;--s:#1f2d4a"/>
<use href="#eleph" x="1278.54" y="404.04" width="47.91" height="37.63" style="--f:#a8c3ec;--s:#1f2d4a"/>
<use href="#eleph" x="1350.54" y="404.04" width="47.91" height="37.63" style="--f:#a8c3ec;--s:#1f2d4a"/>
<use href="#horse" x="1243.06" y="454.28" width="46.27" height="45.56" style="--f:#b8eeb4;--s:#1a2e1a"/>
<use href="#horse" x="1312.34" y="454.28" width="46.89" height="45.56" style="--f:#b8eeb4;--s:#1a2e1a"/>
<use href="#horse" x="1387.05" y="458.98" width="46.37" height="45.66" style="--f:#b8eeb4;--s:#1a2e1a"/>
<use href="#eleph" x="1211.75" y="592.73" width="47.71" height="37.84" style="--f:#f9dcc7;--s:#3a2a20"/>
<use href="#eleph" x="1278.55" y="592.73" width="47.61" height="37.84" style="--f:#8e9db6;--s:#1e2838"/>
<use href="#eleph" x="1350.14" y="592.73" width="48.32" height="37.84" style="--f:#dcf3fb;--s:#23343a"/>
<use href="#horse" x="1242.43" y="643.28" width="47.41" height="45.56" style="--f:#f26464;--s:#3a0a0a"/>
<use href="#horse" x="1312.45" y="643.28" width="46.37" height="45.56" style="--f:#b9e2a2;--s:#1e2e14"/>
<use href="#horse" x="1387.06" y="649.29" width="46.17" height="45.04" style="--f:#4848e4;--s:#10104a"/>
<g fill="#c6c6c6">
<circle cx="1236.7" cy="866.0" r="3.2"/>
<circle cx="1237.3" cy="866.7" r="3.2"/>
<circle cx="1238.6" cy="860.7" r="3.2"/>
<circle cx="1239.6" cy="866.9" r="3.2"/>
<circle cx="1240.8" cy="860.3" r="3.2"/>
<circle cx="1244.5" cy="862.9" r="3.2"/>
<circle cx="1247.7" cy="860.7" r="3.2"/>
<circle cx="1246.7" cy="857.1" r="3.2"/>
<circle cx="1246.7" cy="865.0" r="3.2"/>
<circle cx="1250.1" cy="861.3" r="3.2"/>
<circle cx="1250.9" cy="853.9" r="3.2"/>
<circle cx="1251.3" cy="859.7" r="3.2"/>
<circle cx="1253.0" cy="851.2" r="3.2"/>
<circle cx="1255.8" cy="856.1" r="3.2"/>
<circle cx="1255.1" cy="860.5" r="3.2"/>
<circle cx="1259.1" cy="859.0" r="3.2"/>
<circle cx="1257.5" cy="857.7" r="3.2"/>
<circle cx="1257.7" cy="859.2" r="3.2"/>
<circle cx="1263.9" cy="848.1" r="3.2"/>
<circle cx="1260.2" cy="849.4" r="3.2"/>
<circle cx="1264.3" cy="851.8" r="3.2"/>
<circle cx="1266.6" cy="848.5" r="3.2"/>
<circle cx="1266.0" cy="849.4" r="3.2"/>
<circle cx="1265.3" cy="851.6" r="3.2"/>
<circle cx="1270.4" cy="853.3" r="3.2"/>
<circle cx="1270.9" cy="853.6" r="3.2"/>
<circle cx="1271.8" cy="854.2" r="3.2"/>
<circle cx="1274.9" cy="843.3" r="3.2"/>
<circle cx="1275.8" cy="852.1" r="3.2"/>
<circle cx="1276.0" cy="847.7" r="3.2"/>
<circle cx="1279.1" cy="842.0" r="3.2"/>
<circle cx="1279.7" cy="845.9" r="3.2"/>
<circle cx="1276.9" cy="840.3" r="3.2"/>
<circle cx="1283.8" cy="847.9" r="3.2"/>
<circle cx="1279.9" cy="845.8" r="3.2"/>
<circle cx="1281.6" cy="838.7" r="3.2"/>
<circle cx="1285.0" cy="842.1" r="3.2"/>
<circle cx="1287.9" cy="834.1" r="3.2"/>
<circle cx="1286.6" cy="834.2" r="3.2"/>
<circle cx="1291.1" cy="833.9" r="3.2"/>
<circle cx="1291.9" cy="841.1" r="3.2"/>
<circle cx="1290.0" cy="841.3" r="3.2"/>
<circle cx="1293.0" cy="828.0" r="3.2"/>
<circle cx="1294.5" cy="827.5" r="3.2"/>
<circle cx="1292.5" cy="831.7" r="3.2"/>
<circle cx="1298.6" cy="825.8" r="3.2"/>
<circle cx="1295.7" cy="833.6" r="3.2"/>
<circle cx="1297.1" cy="834.6" r="3.2"/>
<circle cx="1304.0" cy="826.1" r="3.2"/>
<circle cx="1301.8" cy="827.7" r="3.2"/>
<circle cx="1302.7" cy="828.5" r="3.2"/>
<circle cx="1306.3" cy="827.7" r="3.2"/>
<circle cx="1308.2" cy="826.5" r="3.2"/>
<circle cx="1305.7" cy="828.8" r="3.2"/>
<circle cx="1308.7" cy="824.1" r="3.2"/>
<circle cx="1312.4" cy="826.5" r="3.2"/>
<circle cx="1310.2" cy="820.9" r="3.2"/>
<circle cx="1313.6" cy="828.4" r="3.2"/>
<circle cx="1311.6" cy="828.8" r="3.2"/>
<circle cx="1314.7" cy="822.7" r="3.2"/>
<circle cx="1318.6" cy="828.8" r="3.2"/>
<circle cx="1318.9" cy="827.6" r="3.2"/>
<circle cx="1319.0" cy="831.8" r="3.2"/>
<circle cx="1319.6" cy="827.1" r="3.2"/>
<circle cx="1322.9" cy="837.1" r="3.2"/>
<circle cx="1320.8" cy="831.5" r="3.2"/>
<circle cx="1326.5" cy="832.8" r="3.2"/>
<circle cx="1325.3" cy="832.7" r="3.2"/>
<circle cx="1325.3" cy="835.8" r="3.2"/>
<circle cx="1329.0" cy="836.1" r="3.2"/>
<circle cx="1331.4" cy="832.3" r="3.2"/>
<circle cx="1330.3" cy="840.1" r="3.2"/>
<circle cx="1333.1" cy="837.6" r="3.2"/>
<circle cx="1335.5" cy="837.8" r="3.2"/>
<circle cx="1332.4" cy="839.9" r="3.2"/>
<circle cx="1339.0" cy="839.4" r="3.2"/>
<circle cx="1337.1" cy="842.0" r="3.2"/>
<circle cx="1339.7" cy="843.1" r="3.2"/>
<circle cx="1343.8" cy="843.2" r="3.2"/>
<circle cx="1341.2" cy="848.4" r="3.2"/>
<circle cx="1343.9" cy="846.3" r="3.2"/>
<circle cx="1344.6" cy="843.9" r="3.2"/>
<circle cx="1346.1" cy="844.7" r="3.2"/>
<circle cx="1347.5" cy="851.8" r="3.2"/>
<circle cx="1348.4" cy="845.4" r="3.2"/>
<circle cx="1351.5" cy="849.4" r="3.2"/>
<circle cx="1351.5" cy="846.1" r="3.2"/>
<circle cx="1352.1" cy="845.0" r="3.2"/>
<circle cx="1355.5" cy="844.8" r="3.2"/>
<circle cx="1353.2" cy="846.4" r="3.2"/>
<circle cx="1357.6" cy="845.7" r="3.2"/>
<circle cx="1360.1" cy="843.0" r="3.2"/>
<circle cx="1355.5" cy="851.6" r="3.2"/>
<circle cx="1363.9" cy="850.4" r="3.2"/>
<circle cx="1361.7" cy="850.0" r="3.2"/>
<circle cx="1364.1" cy="842.0" r="3.2"/>
<circle cx="1367.2" cy="847.0" r="3.2"/>
<circle cx="1366.8" cy="843.5" r="3.2"/>
<circle cx="1364.9" cy="841.5" r="3.2"/>
<circle cx="1368.6" cy="836.7" r="3.2"/>
<circle cx="1370.4" cy="839.1" r="3.2"/>
<circle cx="1371.6" cy="836.5" r="3.2"/>
<circle cx="1376.0" cy="841.6" r="3.2"/>
<circle cx="1376.1" cy="843.8" r="3.2"/>
<circle cx="1376.0" cy="840.3" r="3.2"/>
<circle cx="1375.6" cy="839.0" r="3.2"/>
<circle cx="1376.4" cy="834.1" r="3.2"/>
<circle cx="1378.8" cy="836.6" r="3.2"/>
<circle cx="1381.6" cy="838.0" r="3.2"/>
<circle cx="1382.6" cy="831.4" r="3.2"/>
<circle cx="1380.8" cy="837.1" r="3.2"/>
<circle cx="1385.9" cy="832.6" r="3.2"/>
<circle cx="1385.3" cy="826.1" r="3.2"/>
<circle cx="1386.2" cy="833.0" r="3.2"/>
<circle cx="1388.4" cy="827.4" r="3.2"/>
<circle cx="1392.1" cy="827.5" r="3.2"/>
<circle cx="1391.6" cy="818.7" r="3.2"/>
<circle cx="1394.6" cy="822.8" r="3.2"/>
<circle cx="1391.7" cy="816.3" r="3.2"/>
<circle cx="1392.8" cy="819.1" r="3.2"/>
<circle cx="1397.6" cy="813.5" r="3.2"/>
<circle cx="1399.4" cy="808.3" r="3.2"/>
<circle cx="1395.8" cy="809.6" r="3.2"/>
<circle cx="1400.1" cy="804.0" r="3.2"/>
<circle cx="1404.4" cy="812.6" r="3.2"/>
<circle cx="1399.9" cy="808.8" r="3.2"/>
<circle cx="1405.1" cy="802.5" r="3.2"/>
<circle cx="1405.3" cy="806.2" r="3.2"/>
<circle cx="1406.4" cy="803.0" r="3.2"/>
<circle cx="1408.5" cy="800.9" r="3.2"/>
<circle cx="1408.1" cy="803.4" r="3.2"/>
<circle cx="1411.1" cy="801.4" r="3.2"/>
<circle cx="1411.9" cy="797.4" r="3.2"/>
<circle cx="1413.4" cy="802.1" r="3.2"/>
<circle cx="1415.4" cy="799.6" r="3.2"/>
<circle cx="1419.5" cy="802.0" r="3.2"/>
<circle cx="1417.7" cy="799.2" r="3.2"/>
<circle cx="1418.0" cy="802.9" r="3.2"/>
<circle cx="1421.6" cy="803.1" r="3.2"/>
<circle cx="1421.8" cy="798.1" r="3.2"/>
<circle cx="1422.2" cy="803.1" r="3.2"/>
<circle cx="1423.9" cy="802.1" r="3.2"/>
<circle cx="1425.6" cy="807.1" r="3.2"/>
<circle cx="1428.2" cy="801.6" r="3.2"/>
</g>
<path d="M1237.5,863.3 C1240.4,861.6 1247.9,856.9 1255,853.3 C1262.1,849.7 1274.2,845.0 1280,841.7 C1285.8,838.4 1286.7,836.0 1290,833.3 C1293.3,830.6 1297.0,827.2 1300,825.5 C1303.0,823.8 1305.5,823.2 1308.3,823.3 C1311.1,823.3 1313.1,823.8 1316.7,825.8 C1320.3,827.8 1325.8,831.9 1330,835 C1334.2,838.1 1338.9,842.4 1341.7,844.2 C1344.5,846.0 1343.9,845.8 1346.7,845.8 C1349.5,845.8 1353.9,845.6 1358.3,844.2 C1362.7,842.8 1368.8,840.1 1373.3,837.5 C1377.8,834.9 1381.4,832.0 1385,828.3 C1388.6,824.5 1391.7,819.3 1395,815 C1398.3,810.7 1401.7,805.3 1405,802.5 C1408.3,799.7 1412.2,798.7 1415,798 C1417.8,797.3 1419.8,797.8 1421.7,798.3 C1423.7,798.8 1425.9,800.4 1426.7,800.8" fill="none" stroke="#000" stroke-width="4.6" stroke-linecap="round"/>
<!-- OUTPUT -->
<g fill="none" stroke="#000" stroke-width="4.4" stroke-linejoin="round">
<rect x="1205.2" y="65.4" width="63.8" height="52.6"/>
<rect x="1290.4" y="66.1" width="61.8" height="55.2"/>
<rect x="1373.4" y="66.4" width="61.9" height="55.4"/>
<rect x="1205.2" y="130.6" width="63.8" height="53"/>
<rect x="1291.8" y="130.6" width="62.4" height="54.9"/>
<rect x="1374.2" y="132.1" width="62" height="54.2"/>
<rect x="1205.3" y="219.4" width="231.4" height="132.4"/>
<rect x="1206.5" y="386.6" width="230.3" height="132.5"/>
<rect x="1206" y="576" width="230.9" height="131.3"/>
<rect x="1207.1" y="762.5" width="229.6" height="132.1"/>
</g>
<text x="1317.1" y="212.4" text-anchor="middle">Classification</text>
<text x="1317.6" y="375.5" text-anchor="middle">Detection</text>
<text x="1318.3" y="541.8" text-anchor="middle">Semantic</text>
<text x="1317" y="566.6" text-anchor="middle">segmentation</text>
<text x="1317.6" y="728.6" text-anchor="middle">Instance</text>
<text x="1317" y="754" text-anchor="middle">segmentation</text>
<text x="1317.4" y="925.3" text-anchor="middle">Regression</text>

<g fill="none" stroke="#e00000" stroke-width="4.2">
<rect x="1218.6" y="226.3" width="55.7" height="56.2"/>
<rect x="1259.5" y="297.3" width="50.9" height="47.7"/>
<rect x="1324.5" y="235.4" width="47.3" height="93.3"/>
<rect x="1381.3" y="250.7" width="43.9" height="92.2"/>
</g>

<!-- regression -->
<g fill="#000">
<rect x="1218.5" y="790" width="4.7" height="96.3"/>
<polygon points="1208.6,792 1220.8,768.3 1233,792"/>
<rect x="1218.5" y="881.6" width="195" height="4.7"/>
<polygon points="1412,873 1435.7,883.9 1412,894.8"/>
</g>

</svg>
</body></html>
